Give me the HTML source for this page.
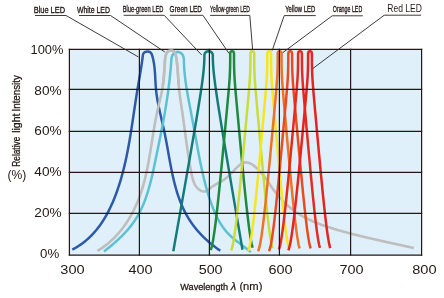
<!DOCTYPE html>
<html><head><meta charset="utf-8"><style>
html,body{margin:0;padding:0;background:#fff;width:444px;height:298px;overflow:hidden;}
svg{display:block;will-change:transform;font-family:"Liberation Sans",sans-serif;}
</style></head><body>
<svg width="444" height="298" viewBox="0 0 444 298">
<defs><clipPath id="topclip"><rect x="150" y="40" width="40" height="45"/></clipPath><clipPath id="archclip"><rect x="167.5" y="45" width="7" height="6"/></clipPath></defs>
<rect x="0" y="0" width="444" height="298" fill="#ffffff"/>
<rect x="69.40" y="49.30" width="352.20" height="205.90" fill="#dff0fa"/>
<g fill="none" stroke-linejoin="round"><path d="M72.33 249.60 L73.09 249.20 L73.84 248.80 L74.58 248.39 L75.31 247.97 L76.04 247.55 L76.76 247.11 L77.47 246.68 L78.17 246.23 L78.87 245.78 L79.56 245.32 L80.24 244.86 L80.92 244.39 L81.59 243.91 L82.25 243.43 L82.91 242.94 L83.56 242.45 L84.20 241.95 L84.83 241.44 L85.46 240.93 L86.08 240.41 L86.69 239.89 L87.30 239.36 L87.90 238.82 L88.50 238.28 L89.09 237.74 L89.67 237.18 L90.24 236.63 L90.81 236.07 L91.38 235.50 L91.93 234.93 L92.49 234.35 L93.03 233.77 L93.57 233.19 L94.10 232.60 L94.63 232.00 L95.15 231.40 L95.67 230.79 L96.18 230.19 L96.68 229.57 L97.18 228.95 L97.67 228.33 L98.16 227.70 L98.64 227.07 L99.12 226.44 L99.59 225.80 L100.05 225.16 L100.51 224.51 L100.97 223.86 L101.42 223.20 L101.86 222.55 L102.30 221.88 L102.73 221.22 L103.16 220.55 L103.59 219.88 L104.01 219.20 L104.42 218.52 L104.83 217.84 L105.24 217.16 L105.64 216.47 L106.03 215.78 L106.43 215.08 L106.81 214.39 L107.19 213.69 L107.57 212.98 L107.95 212.28 L108.32 211.57 L108.68 210.86 L109.04 210.15 L109.40 209.43 L109.75 208.72 L110.10 208.00 L110.44 207.27 L110.78 206.55 L111.12 205.82 L111.45 205.10 L111.78 204.36 L112.11 203.63 L112.43 202.90 L112.75 202.16 L113.06 201.43 L113.37 200.69 L113.68 199.95 L113.98 199.21 L114.28 198.46 L114.58 197.72 L114.87 196.97 L115.16 196.23 L115.45 195.48 L115.74 194.73 L116.02 193.98 L116.29 193.23 L116.57 192.48 L116.84 191.72 L117.11 190.97 L117.38 190.21 L117.64 189.46 L117.90 188.70 L118.16 187.94 L118.41 187.18 L118.66 186.42 L118.91 185.66 L119.16 184.90 L119.40 184.14 L119.64 183.37 L119.88 182.61 L120.11 181.84 L120.34 181.08 L120.57 180.31 L120.80 179.54 L121.03 178.77 L121.25 178.00 L121.47 177.23 L121.69 176.46 L121.90 175.69 L122.11 174.92 L122.32 174.14 L122.53 173.37 L122.74 172.59 L122.94 171.82 L123.14 171.04 L123.34 170.26 L123.54 169.49 L123.73 168.71 L123.93 167.93 L124.12 167.15 L124.30 166.37 L124.49 165.59 L124.67 164.81 L124.86 164.02 L125.04 163.24 L125.22 162.46 L125.39 161.67 L125.57 160.89 L125.74 160.10 L125.91 159.32 L126.08 158.53 L126.25 157.74 L126.42 156.96 L126.58 156.17 L126.74 155.38 L126.90 154.59 L127.06 153.80 L127.22 153.01 L127.38 152.22 L127.53 151.43 L127.69 150.64 L127.84 149.85 L127.99 149.06 L128.14 148.27 L128.29 147.48 L128.43 146.69 L128.58 145.89 L128.72 145.10 L128.87 144.31 L129.01 143.51 L129.15 142.72 L129.29 141.92 L129.43 141.13 L129.56 140.34 L129.70 139.54 L129.83 138.75 L129.97 137.95 L130.10 137.15 L130.23 136.36 L130.37 135.56 L130.50 134.77 L130.63 133.97 L130.75 133.17 L130.88 132.38 L131.01 131.58 L131.14 130.78 L131.26 129.99 L131.39 129.19 L131.51 128.39 L131.64 127.60 L131.76 126.80 L131.88 126.00 L132.00 125.21 L132.13 124.41 L132.25 123.61 L132.37 122.82 L132.49 122.02 L132.61 121.22 L132.73 120.43 L132.85 119.63 L132.97 118.83 L133.09 118.04 L133.21 117.24 L133.33 116.44 L133.44 115.65 L133.56 114.85 L133.68 114.06 L133.80 113.26 L133.92 112.46 L134.03 111.67 L134.15 110.87 L134.27 110.08 L134.39 109.28 L134.51 108.49 L134.63 107.70 L134.75 106.90 L134.86 106.11 L134.98 105.32 L135.10 104.52 L135.22 103.73 L135.34 102.94 L135.46 102.15 L135.58 101.35 L135.70 100.56 L135.83 99.77 L135.95 98.98 L136.07 98.19 L136.19 97.40 L136.32 96.61 L136.44 95.82 L136.57 95.03 L136.69 94.25 L136.82 93.46 L136.94 92.67 L137.07 91.89 L137.20 91.10 L137.33 90.31 L137.46 89.53 L137.59 88.74 L137.72 87.96 L137.85 87.18 L137.99 86.39 L138.12 85.61 L138.25 84.83 L138.39 84.05 L138.52 83.26 L138.66 82.48 L138.79 81.70 L138.93 80.92 L139.06 80.13 L139.20 79.35 L139.33 78.57 L139.47 77.79 L139.60 77.00 L139.74 76.22 L139.87 75.43 L140.00 74.65 L140.14 73.86 L140.27 73.08 L140.40 72.29 L140.53 71.50 L140.66 70.71 L140.78 69.92 L140.91 69.13 L141.04 68.34 L141.16 67.55 L141.28 66.75 L141.41 65.96 L141.53 65.16 L141.64 64.36 L141.76 63.57 L141.87 62.76 L141.99 61.96 L142.10 61.16 L142.21 60.35 L142.31 59.54 L142.42 58.73 L142.52 57.92 L142.62 57.11 L142.72 56.29 L142.83 55.48 L142.97 54.70 L143.20 53.96 L143.55 53.29 L144.05 52.72 L144.71 52.25 L145.48 51.89 L146.34 51.65 L147.23 51.53 L148.11 51.53 L148.95 51.67 L149.70 51.93 L150.33 52.32 L150.86 52.82 L151.29 53.42 L151.65 54.10 L151.95 54.83 L152.21 55.60 L152.44 56.39 L152.65 57.19 L152.85 57.98 L153.04 58.78 L153.22 59.58 L153.39 60.38 L153.55 61.18 L153.70 61.98 L153.84 62.78 L153.97 63.58 L154.09 64.39 L154.20 65.19 L154.31 65.99 L154.41 66.80 L154.50 67.60 L154.58 68.41 L154.66 69.21 L154.74 70.02 L154.81 70.82 L154.87 71.63 L154.93 72.44 L154.99 73.24 L155.04 74.05 L155.09 74.85 L155.14 75.66 L155.19 76.46 L155.23 77.27 L155.27 78.07 L155.32 78.87 L155.36 79.68 L155.40 80.48 L155.44 81.28 L155.49 82.08 L155.53 82.89 L155.58 83.69 L155.63 84.49 L155.68 85.28 L155.73 86.08 L155.79 86.88 L155.85 87.68 L155.92 88.47 L155.99 89.26 L156.07 90.06 L156.15 90.85 L156.24 91.64 L156.33 92.43 L156.42 93.22 L156.53 94.00 L156.63 94.79 L156.74 95.58 L156.86 96.36 L156.98 97.15 L157.10 97.93 L157.23 98.71 L157.36 99.49 L157.49 100.27 L157.63 101.05 L157.77 101.83 L157.92 102.61 L158.07 103.39 L158.22 104.17 L158.37 104.95 L158.53 105.73 L158.69 106.50 L158.85 107.28 L159.01 108.06 L159.18 108.83 L159.35 109.61 L159.52 110.39 L159.69 111.16 L159.86 111.94 L160.04 112.71 L160.21 113.49 L160.39 114.27 L160.57 115.04 L160.75 115.82 L160.93 116.60 L161.11 117.37 L161.29 118.15 L161.47 118.93 L161.65 119.70 L161.83 120.48 L162.01 121.26 L162.19 122.04 L162.38 122.82 L162.56 123.60 L162.74 124.38 L162.92 125.16 L163.09 125.94 L163.27 126.72 L163.45 127.51 L163.62 128.29 L163.79 129.07 L163.97 129.86 L164.14 130.65 L164.30 131.43 L164.47 132.22 L164.63 133.01 L164.80 133.80 L164.96 134.59 L165.12 135.38 L165.28 136.18 L165.43 136.97 L165.59 137.76 L165.74 138.56 L165.89 139.35 L166.04 140.15 L166.19 140.94 L166.34 141.74 L166.49 142.54 L166.64 143.33 L166.79 144.13 L166.93 144.93 L167.08 145.73 L167.22 146.53 L167.37 147.33 L167.51 148.13 L167.65 148.93 L167.79 149.73 L167.94 150.53 L168.08 151.33 L168.22 152.13 L168.36 152.93 L168.51 153.73 L168.65 154.53 L168.79 155.33 L168.94 156.13 L169.08 156.93 L169.22 157.73 L169.37 158.53 L169.51 159.33 L169.66 160.13 L169.80 160.93 L169.95 161.73 L170.10 162.53 L170.25 163.33 L170.40 164.13 L170.55 164.92 L170.70 165.72 L170.85 166.52 L171.01 167.31 L171.16 168.11 L171.32 168.90 L171.48 169.70 L171.64 170.49 L171.80 171.28 L171.96 172.07 L172.13 172.86 L172.30 173.65 L172.47 174.44 L172.64 175.23 L172.81 176.02 L172.99 176.81 L173.16 177.59 L173.34 178.38 L173.53 179.16 L173.71 179.94 L173.90 180.72 L174.09 181.50 L174.28 182.28 L174.48 183.06 L174.68 183.84 L174.88 184.61 L175.08 185.38 L175.29 186.16 L175.50 186.93 L175.71 187.70 L175.93 188.47 L176.15 189.23 L176.37 190.00 L176.60 190.76 L176.83 191.52 L177.06 192.28 L177.30 193.04 L177.54 193.80 L177.78 194.55 L178.03 195.31 L178.28 196.06 L178.54 196.81 L178.80 197.56 L179.07 198.30 L179.34 199.05 L179.61 199.79 L179.89 200.53 L180.17 201.27 L180.46 202.00 L180.75 202.74 L181.04 203.47 L181.35 204.20 L181.65 204.93 L181.96 205.65 L182.28 206.37 L182.60 207.09 L182.92 207.81 L183.26 208.53 L183.59 209.24 L183.93 209.95 L184.28 210.66 L184.63 211.37 L184.99 212.07 L185.35 212.77 L185.72 213.47 L186.10 214.17 L186.48 214.86 L186.87 215.55 L187.26 216.24 L187.66 216.92 L188.06 217.60 L188.47 218.28 L188.89 218.96 L189.31 219.63 L189.74 220.30 L190.18 220.97 L190.62 221.63 L191.07 222.29 L191.53 222.95 L191.99 223.61 L192.46 224.26 L192.94 224.91 L193.42 225.55 L193.91 226.20 L194.40 226.83 L194.90 227.47 L195.40 228.10 L195.91 228.73 L196.43 229.35 L196.95 229.97 L197.48 230.59 L198.01 231.20 L198.55 231.81 L199.09 232.42 L199.63 233.02 L200.18 233.61 L200.74 234.21 L201.30 234.79 L201.86 235.38 L202.43 235.96 L203.01 236.54 L203.58 237.11 L204.16 237.67 L204.75 238.24 L205.34 238.79 L205.93 239.35 L206.52 239.90 L207.12 240.44 L207.72 240.98 L208.33 241.51 L208.93 242.04 L209.54 242.57 L210.16 243.09 L210.77 243.60 L211.39 244.11 L212.01 244.61 L212.64 245.11 L213.26 245.61 L213.89 246.09 L214.52 246.58 L215.15 247.05 L215.78 247.53 L216.42 247.99 L217.06 248.45 L217.69 248.91 L218.33 249.36 L218.97 249.80 L219.62 250.24 L220.26 250.67" stroke="#2c5aa8" stroke-width="2.50" stroke-linecap="butt"/><path d="M97.32 250.96 L98.03 250.53 L98.73 250.10 L99.43 249.66 L100.13 249.21 L100.82 248.76 L101.50 248.30 L102.18 247.84 L102.85 247.37 L103.52 246.89 L104.18 246.41 L104.83 245.93 L105.48 245.43 L106.12 244.94 L106.76 244.43 L107.39 243.93 L108.02 243.41 L108.64 242.90 L109.26 242.37 L109.87 241.85 L110.47 241.31 L111.07 240.77 L111.67 240.23 L112.26 239.68 L112.84 239.13 L113.42 238.57 L113.99 238.01 L114.56 237.44 L115.12 236.87 L115.68 236.30 L116.23 235.71 L116.77 235.13 L117.31 234.54 L117.85 233.95 L118.38 233.35 L118.90 232.75 L119.42 232.14 L119.94 231.53 L120.45 230.92 L120.95 230.30 L121.45 229.67 L121.95 229.05 L122.43 228.42 L122.92 227.78 L123.40 227.15 L123.87 226.51 L124.34 225.86 L124.80 225.21 L125.26 224.56 L125.72 223.90 L126.17 223.25 L126.61 222.58 L127.05 221.92 L127.48 221.25 L127.91 220.58 L128.34 219.90 L128.76 219.22 L129.17 218.54 L129.58 217.86 L129.99 217.17 L130.39 216.48 L130.78 215.79 L131.17 215.09 L131.56 214.39 L131.94 213.69 L132.32 212.99 L132.69 212.28 L133.06 211.58 L133.42 210.86 L133.78 210.15 L134.13 209.44 L134.48 208.72 L134.82 208.00 L135.16 207.27 L135.50 206.55 L135.83 205.82 L136.16 205.10 L136.48 204.36 L136.80 203.63 L137.11 202.90 L137.42 202.16 L137.72 201.42 L138.02 200.68 L138.32 199.94 L138.61 199.20 L138.89 198.46 L139.18 197.71 L139.45 196.96 L139.73 196.22 L140.00 195.47 L140.26 194.71 L140.52 193.96 L140.78 193.21 L141.04 192.45 L141.29 191.70 L141.53 190.94 L141.77 190.18 L142.01 189.42 L142.25 188.66 L142.48 187.90 L142.71 187.13 L142.93 186.37 L143.15 185.60 L143.37 184.83 L143.58 184.07 L143.79 183.30 L144.00 182.53 L144.21 181.75 L144.41 180.98 L144.61 180.21 L144.80 179.43 L144.99 178.66 L145.18 177.88 L145.37 177.11 L145.56 176.33 L145.74 175.55 L145.92 174.77 L146.10 173.99 L146.27 173.21 L146.44 172.43 L146.61 171.64 L146.78 170.86 L146.95 170.08 L147.11 169.29 L147.27 168.50 L147.43 167.72 L147.59 166.93 L147.74 166.14 L147.90 165.36 L148.05 164.57 L148.20 163.78 L148.35 162.99 L148.49 162.20 L148.64 161.41 L148.78 160.62 L148.92 159.82 L149.06 159.03 L149.20 158.24 L149.34 157.45 L149.48 156.65 L149.62 155.86 L149.75 155.07 L149.89 154.27 L150.02 153.48 L150.15 152.68 L150.28 151.89 L150.41 151.09 L150.54 150.30 L150.67 149.50 L150.80 148.70 L150.93 147.91 L151.06 147.11 L151.18 146.32 L151.31 145.52 L151.44 144.72 L151.56 143.93 L151.69 143.13 L151.82 142.33 L151.94 141.54 L152.07 140.74 L152.20 139.94 L152.32 139.15 L152.45 138.35 L152.57 137.55 L152.70 136.76 L152.83 135.96 L152.96 135.17 L153.09 134.37 L153.21 133.58 L153.34 132.78 L153.47 131.99 L153.61 131.19 L153.74 130.40 L153.87 129.60 L154.00 128.81 L154.14 128.02 L154.27 127.22 L154.41 126.43 L154.55 125.64 L154.69 124.85 L154.83 124.06 L154.97 123.26 L155.11 122.47 L155.26 121.68 L155.40 120.90 L155.55 120.11 L155.70 119.32 L155.85 118.53 L156.00 117.75 L156.16 116.96 L156.31 116.17 L156.47 115.39 L156.63 114.60 L156.79 113.82 L156.96 113.04 L157.12 112.26 L157.29 111.48 L157.46 110.70 L157.64 109.92 L157.81 109.14 L157.99 108.36 L158.17 107.58 L158.35 106.81 L158.54 106.03 L158.72 105.25 L158.90 104.48 L159.09 103.70 L159.27 102.93 L159.46 102.16 L159.64 101.38 L159.83 100.61 L160.01 99.83 L160.19 99.06 L160.37 98.29 L160.55 97.51 L160.72 96.74 L160.89 95.96 L161.06 95.19 L161.23 94.41 L161.39 93.64 L161.55 92.86 L161.71 92.08 L161.86 91.30 L162.01 90.53 L162.15 89.75 L162.29 88.96 L162.42 88.18 L162.54 87.40 L162.67 86.62 L162.78 85.83 L162.90 85.05 L163.00 84.26 L163.11 83.47 L163.21 82.68 L163.30 81.89 L163.40 81.10 L163.49 80.31 L163.57 79.51 L163.65 78.72 L163.73 77.92 L163.81 77.13 L163.88 76.33 L163.95 75.53 L164.02 74.73 L164.09 73.93 L164.15 73.13 L164.21 72.32 L164.27 71.52 L164.33 70.71 L164.39 69.90 L164.44 69.09 L164.49 68.28 L164.55 67.47 L164.60 66.66 L164.65 65.84 L164.70 65.03 L164.75 64.21 L164.79 63.39 L164.84 62.57 L164.89 61.75 L164.94 60.93 L165.00 60.11 L165.06 59.29 L165.15 58.48 L165.25 57.68 L165.38 56.88 L165.54 56.10 L165.74 55.33 L165.98 54.58 L166.26 53.85 L166.60 53.14 L167.00 52.46 L167.49 51.85 L168.07 51.33 L168.74 50.91 L169.48 50.60 L170.26 50.42 L171.08 50.38 L171.91 50.48 L172.72 50.71 L173.47 51.07 L174.14 51.53 L174.67 52.09 L175.08 52.74 L175.38 53.46 L175.60 54.21 L175.77 55.00 L175.92 55.80 L176.06 56.59 L176.19 57.39 L176.32 58.18 L176.44 58.97 L176.56 59.77 L176.67 60.56 L176.78 61.35 L176.88 62.14 L176.97 62.93 L177.06 63.73 L177.15 64.52 L177.24 65.31 L177.31 66.10 L177.39 66.89 L177.46 67.68 L177.53 68.47 L177.60 69.26 L177.66 70.05 L177.72 70.84 L177.78 71.62 L177.84 72.41 L177.90 73.20 L177.95 73.99 L178.01 74.78 L178.06 75.57 L178.11 76.36 L178.17 77.15 L178.22 77.95 L178.27 78.74 L178.33 79.53 L178.38 80.32 L178.43 81.11 L178.49 81.91 L178.55 82.70 L178.61 83.49 L178.67 84.29 L178.73 85.08 L178.80 85.88 L178.87 86.67 L178.94 87.47 L179.01 88.27 L179.09 89.07 L179.18 89.87 L179.26 90.67 L179.35 91.47 L179.44 92.27 L179.54 93.07 L179.64 93.87 L179.74 94.68 L179.85 95.48 L179.95 96.28 L180.06 97.09 L180.17 97.89 L180.29 98.69 L180.40 99.50 L180.52 100.30 L180.63 101.11 L180.75 101.91 L180.87 102.71 L180.99 103.52 L181.11 104.32 L181.23 105.12 L181.35 105.93 L181.47 106.73 L181.59 107.53 L181.72 108.33 L181.83 109.13 L181.95 109.93 L182.07 110.73 L182.19 111.52 L182.31 112.32 L182.42 113.12 L182.53 113.91 L182.65 114.70 L182.76 115.50 L182.87 116.29 L182.98 117.08 L183.09 117.87 L183.20 118.66 L183.31 119.46 L183.42 120.24 L183.53 121.03 L183.64 121.82 L183.75 122.61 L183.85 123.40 L183.96 124.19 L184.07 124.97 L184.17 125.76 L184.28 126.54 L184.38 127.33 L184.49 128.12 L184.59 128.90 L184.70 129.69 L184.80 130.47 L184.91 131.26 L185.01 132.04 L185.12 132.83 L185.22 133.61 L185.33 134.39 L185.43 135.18 L185.54 135.96 L185.65 136.75 L185.75 137.53 L185.86 138.32 L185.97 139.10 L186.07 139.88 L186.18 140.67 L186.29 141.45 L186.40 142.24 L186.51 143.02 L186.62 143.81 L186.73 144.60 L186.84 145.38 L186.95 146.17 L187.06 146.96 L187.18 147.74 L187.29 148.53 L187.41 149.32 L187.52 150.11 L187.64 150.90 L187.76 151.69 L187.88 152.48 L188.00 153.27 L188.12 154.06 L188.24 154.85 L188.36 155.65 L188.49 156.44 L188.61 157.23 L188.74 158.03 L188.87 158.82 L189.00 159.62 L189.13 160.42 L189.26 161.22 L189.40 162.02 L189.53 162.82 L189.67 163.62 L189.81 164.42 L189.95 165.22 L190.09 166.03 L190.24 166.83 L190.38 167.64 L190.53 168.45 L190.68 169.26 L190.83 170.06 L190.98 170.88 L191.14 171.69 L191.30 172.50 L191.45 173.32 L191.62 174.13 L191.79 174.94 L191.96 175.75 L192.14 176.56 L192.34 177.36 L192.54 178.16 L192.75 178.94 L192.98 179.72 L193.23 180.49 L193.49 181.25 L193.77 182.00 L194.06 182.73 L194.38 183.45 L194.72 184.15 L195.09 184.83 L195.48 185.50 L195.89 186.15 L196.34 186.77 L196.81 187.37 L197.31 187.96 L197.85 188.51 L198.42 189.04 L199.03 189.54 L199.66 190.01 L200.32 190.44 L201.00 190.80 L201.70 191.11 L202.41 191.35 L203.13 191.50 L203.85 191.56 L204.56 191.52 L205.27 191.37 L205.97 191.13 L206.66 190.81 L207.36 190.42 L208.04 189.97 L208.73 189.48 L209.42 188.95 L210.11 188.40 L210.80 187.85 L211.49 187.30 L212.19 186.77 L212.89 186.26 L213.60 185.77 L214.32 185.31 L215.03 184.86 L215.75 184.43 L216.46 184.01 L217.18 183.61 L217.89 183.21 L218.60 182.82 L219.30 182.44 L220.00 182.06 L220.70 181.67 L221.38 181.29 L222.06 180.90 L222.72 180.50 L223.38 180.09 L224.02 179.68 L224.65 179.24 L225.26 178.79 L225.87 178.33 L226.46 177.85 L227.04 177.36 L227.62 176.86 L228.18 176.35 L228.75 175.83 L229.30 175.29 L229.86 174.75 L230.41 174.19 L230.96 173.63 L231.51 173.06 L232.06 172.48 L232.62 171.90 L233.18 171.31 L233.75 170.72 L234.32 170.12 L234.90 169.52 L235.48 168.91 L236.08 168.31 L236.69 167.70 L237.32 167.09 L237.95 166.49 L238.59 165.90 L239.25 165.34 L239.91 164.80 L240.58 164.30 L241.26 163.85 L241.95 163.45 L242.64 163.10 L243.34 162.82 L244.04 162.62 L244.74 162.48 L245.45 162.41 L246.16 162.41 L246.87 162.47 L247.58 162.58 L248.29 162.75 L248.99 162.97 L249.70 163.23 L250.40 163.55 L251.10 163.90 L251.79 164.29 L252.47 164.71 L253.15 165.16 L253.82 165.65 L254.49 166.15 L255.14 166.68 L255.78 167.23 L256.41 167.79 L257.03 168.36 L257.64 168.93 L258.23 169.52 L258.81 170.11 L259.38 170.71 L259.94 171.31 L260.49 171.91 L261.03 172.53 L261.55 173.14 L262.07 173.76 L262.58 174.39 L263.08 175.02 L263.58 175.65 L264.06 176.29 L264.55 176.93 L265.02 177.57 L265.49 178.21 L265.96 178.86 L266.42 179.51 L266.87 180.16 L267.33 180.81 L267.78 181.46 L268.23 182.12 L268.67 182.77 L269.12 183.43 L269.57 184.08 L270.01 184.74 L270.46 185.39 L270.91 186.05 L271.36 186.70 L271.81 187.35 L272.26 188.01 L272.72 188.65 L273.18 189.30 L273.65 189.95 L274.12 190.59 L274.59 191.23 L275.07 191.87 L275.56 192.50 L276.05 193.13 L276.55 193.76 L277.05 194.38 L277.56 195.01 L278.07 195.62 L278.59 196.24 L279.11 196.85 L279.64 197.45 L280.17 198.06 L280.71 198.65 L281.25 199.25 L281.80 199.84 L282.35 200.42 L282.90 201.00 L283.47 201.58 L284.03 202.15 L284.60 202.71 L285.18 203.27 L285.76 203.83 L286.34 204.38 L286.93 204.92 L287.53 205.46 L288.13 205.99 L288.73 206.52 L289.34 207.04 L289.95 207.55 L290.57 208.06 L291.19 208.56 L291.82 209.05 L292.45 209.54 L293.09 210.02 L293.73 210.50 L294.37 210.97 L295.02 211.43 L295.67 211.88 L296.33 212.33 L296.99 212.78 L297.65 213.21 L298.32 213.64 L298.99 214.07 L299.67 214.49 L300.35 214.90 L301.03 215.31 L301.72 215.71 L302.41 216.11 L303.10 216.50 L303.80 216.88 L304.50 217.26 L305.20 217.64 L305.91 218.01 L306.62 218.37 L307.33 218.73 L308.04 219.09 L308.76 219.44 L309.48 219.78 L310.20 220.12 L310.93 220.46 L311.66 220.79 L312.39 221.12 L313.12 221.44 L313.86 221.76 L314.60 222.07 L315.34 222.38 L316.08 222.69 L316.83 222.99 L317.57 223.29 L318.32 223.58 L319.07 223.87 L319.82 224.16 L320.58 224.44 L321.33 224.72 L322.09 225.00 L322.85 225.27 L323.61 225.54 L324.37 225.81 L325.14 226.07 L325.90 226.33 L326.67 226.59 L327.43 226.85 L328.20 227.10 L328.97 227.35 L329.74 227.59 L330.51 227.84 L331.28 228.08 L332.05 228.32 L332.83 228.56 L333.60 228.79 L334.37 229.03 L335.15 229.26 L335.92 229.49 L336.70 229.71 L337.47 229.94 L338.25 230.16 L339.02 230.39 L339.80 230.61 L340.58 230.83 L341.35 231.04 L342.13 231.26 L342.90 231.47 L343.68 231.69 L344.45 231.90 L345.23 232.11 L346.01 232.32 L346.78 232.53 L347.56 232.74 L348.33 232.94 L349.11 233.15 L349.88 233.35 L350.66 233.55 L351.43 233.75 L352.21 233.95 L352.99 234.15 L353.76 234.35 L354.54 234.55 L355.31 234.74 L356.09 234.94 L356.86 235.13 L357.64 235.33 L358.42 235.52 L359.19 235.71 L359.97 235.90 L360.74 236.09 L361.52 236.28 L362.30 236.46 L363.07 236.65 L363.85 236.84 L364.63 237.02 L365.40 237.20 L366.18 237.39 L366.96 237.57 L367.73 237.75 L368.51 237.93 L369.29 238.12 L370.06 238.30 L370.84 238.47 L371.62 238.65 L372.40 238.83 L373.17 239.01 L373.95 239.19 L374.73 239.36 L375.51 239.54 L376.28 239.72 L377.06 239.89 L377.84 240.07 L378.62 240.24 L379.40 240.42 L380.18 240.59 L380.96 240.76 L381.73 240.94 L382.51 241.11 L383.29 241.28 L384.07 241.46 L384.85 241.63 L385.63 241.80 L386.41 241.97 L387.19 242.15 L387.97 242.32 L388.75 242.49 L389.54 242.66 L390.32 242.83 L391.10 243.00 L391.88 243.17 L392.66 243.35 L393.44 243.52 L394.23 243.69 L395.01 243.86 L395.79 244.03 L396.57 244.20 L397.36 244.38 L398.14 244.55 L398.92 244.72 L399.71 244.89 L400.49 245.07 L401.28 245.24 L402.06 245.41 L402.85 245.59 L403.63 245.76 L404.42 245.93 L405.20 246.11 L405.99 246.28 L406.77 246.46 L407.56 246.63 L408.35 246.81 L409.13 246.99 L409.92 247.16 L410.71 247.34 L411.50 247.52 L412.29 247.70 L413.07 247.88 L413.86 248.06" stroke="#bfbebe" stroke-width="2.60" stroke-linecap="butt"/><path d="M103.93 251.46 L104.57 250.98 L105.20 250.49 L105.83 250.00 L106.46 249.50 L107.09 249.01 L107.72 248.51 L108.35 248.01 L108.98 247.50 L109.60 247.00 L110.23 246.49 L110.85 245.98 L111.47 245.46 L112.08 244.94 L112.70 244.42 L113.31 243.90 L113.92 243.37 L114.53 242.85 L115.14 242.31 L115.74 241.78 L116.35 241.24 L116.94 240.70 L117.54 240.16 L118.13 239.61 L118.72 239.06 L119.31 238.51 L119.89 237.95 L120.47 237.39 L121.05 236.83 L121.62 236.26 L122.19 235.70 L122.76 235.12 L123.32 234.55 L123.87 233.97 L124.43 233.39 L124.98 232.80 L125.52 232.21 L126.06 231.62 L126.60 231.02 L127.13 230.43 L127.65 229.82 L128.18 229.22 L128.69 228.61 L129.20 227.99 L129.71 227.38 L130.21 226.76 L130.71 226.13 L131.20 225.50 L131.68 224.87 L132.16 224.24 L132.63 223.60 L133.10 222.95 L133.56 222.31 L134.02 221.65 L134.47 221.00 L134.91 220.34 L135.35 219.68 L135.78 219.01 L136.20 218.34 L136.62 217.67 L137.03 216.99 L137.43 216.30 L137.83 215.62 L138.22 214.93 L138.61 214.23 L138.99 213.54 L139.36 212.84 L139.73 212.13 L140.09 211.43 L140.45 210.72 L140.80 210.00 L141.14 209.29 L141.48 208.57 L141.82 207.84 L142.15 207.12 L142.47 206.39 L142.79 205.66 L143.10 204.92 L143.41 204.18 L143.72 203.44 L144.02 202.70 L144.31 201.96 L144.60 201.21 L144.89 200.46 L145.17 199.70 L145.45 198.95 L145.72 198.19 L145.99 197.43 L146.26 196.67 L146.52 195.91 L146.77 195.14 L147.03 194.38 L147.27 193.61 L147.52 192.84 L147.76 192.06 L148.00 191.29 L148.24 190.51 L148.47 189.73 L148.70 188.96 L148.92 188.18 L149.14 187.39 L149.36 186.61 L149.58 185.83 L149.79 185.04 L150.00 184.25 L150.21 183.47 L150.41 182.68 L150.62 181.89 L150.82 181.10 L151.01 180.31 L151.21 179.51 L151.40 178.72 L151.59 177.93 L151.78 177.13 L151.97 176.34 L152.15 175.54 L152.34 174.75 L152.52 173.95 L152.70 173.16 L152.88 172.36 L153.05 171.56 L153.23 170.77 L153.40 169.97 L153.58 169.18 L153.75 168.38 L153.92 167.58 L154.09 166.79 L154.26 165.99 L154.42 165.20 L154.59 164.40 L154.76 163.61 L154.92 162.82 L155.09 162.02 L155.25 161.23 L155.42 160.44 L155.58 159.65 L155.75 158.86 L155.91 158.07 L156.08 157.28 L156.24 156.50 L156.40 155.71 L156.57 154.93 L156.73 154.14 L156.89 153.36 L157.05 152.57 L157.22 151.79 L157.38 151.01 L157.54 150.23 L157.70 149.45 L157.86 148.67 L158.02 147.89 L158.18 147.11 L158.34 146.33 L158.50 145.55 L158.66 144.77 L158.82 144.00 L158.98 143.22 L159.14 142.45 L159.30 141.67 L159.45 140.89 L159.61 140.12 L159.77 139.35 L159.92 138.57 L160.08 137.80 L160.23 137.02 L160.39 136.25 L160.54 135.48 L160.70 134.70 L160.85 133.93 L161.00 133.16 L161.15 132.39 L161.31 131.62 L161.46 130.84 L161.61 130.07 L161.76 129.30 L161.91 128.53 L162.05 127.76 L162.20 126.98 L162.35 126.21 L162.50 125.44 L162.64 124.67 L162.79 123.90 L162.93 123.13 L163.08 122.35 L163.22 121.58 L163.36 120.81 L163.50 120.04 L163.65 119.26 L163.79 118.49 L163.93 117.72 L164.07 116.94 L164.20 116.17 L164.34 115.40 L164.48 114.62 L164.61 113.85 L164.75 113.07 L164.88 112.30 L165.02 111.52 L165.15 110.75 L165.28 109.97 L165.41 109.19 L165.54 108.41 L165.67 107.64 L165.80 106.86 L165.93 106.08 L166.05 105.30 L166.18 104.52 L166.30 103.74 L166.43 102.95 L166.55 102.17 L166.67 101.39 L166.79 100.61 L166.91 99.82 L167.03 99.04 L167.15 98.25 L167.26 97.46 L167.38 96.68 L167.49 95.89 L167.61 95.10 L167.72 94.31 L167.83 93.52 L167.94 92.73 L168.05 91.93 L168.16 91.14 L168.27 90.34 L168.37 89.55 L168.48 88.75 L168.58 87.95 L168.68 87.16 L168.78 86.36 L168.88 85.55 L168.98 84.75 L169.08 83.95 L169.18 83.14 L169.27 82.34 L169.37 81.53 L169.46 80.72 L169.55 79.91 L169.64 79.10 L169.73 78.29 L169.82 77.48 L169.90 76.66 L169.99 75.85 L170.07 75.03 L170.15 74.21 L170.23 73.39 L170.31 72.57 L170.39 71.75 L170.47 70.92 L170.54 70.10 L170.62 69.27 L170.69 68.44 L170.76 67.61 L170.83 66.78 L170.90 65.95 L170.97 65.11 L171.03 64.27 L171.09 63.43 L171.16 62.59 L171.22 61.75 L171.28 60.91 L171.35 60.07 L171.43 59.24 L171.54 58.43 L171.68 57.64 L171.86 56.87 L172.10 56.14 L172.38 55.44 L172.74 54.79 L173.16 54.19 L173.67 53.64 L174.26 53.15 L174.93 52.73 L175.64 52.40 L176.39 52.16 L177.16 52.03 L177.94 52.01 L178.70 52.11 L179.43 52.33 L180.14 52.64 L180.81 53.05 L181.43 53.54 L181.98 54.10 L182.47 54.73 L182.88 55.41 L183.20 56.14 L183.45 56.90 L183.63 57.71 L183.76 58.53 L183.84 59.38 L183.90 60.25 L183.93 61.12 L183.95 61.99 L183.98 62.86 L184.01 63.72 L184.04 64.58 L184.08 65.43 L184.12 66.28 L184.17 67.12 L184.22 67.96 L184.27 68.79 L184.33 69.62 L184.39 70.44 L184.45 71.26 L184.52 72.08 L184.59 72.89 L184.67 73.69 L184.75 74.50 L184.83 75.30 L184.91 76.09 L185.00 76.89 L185.09 77.68 L185.18 78.46 L185.28 79.25 L185.38 80.03 L185.48 80.81 L185.58 81.59 L185.69 82.36 L185.80 83.14 L185.91 83.91 L186.02 84.68 L186.14 85.44 L186.25 86.21 L186.37 86.98 L186.50 87.74 L186.62 88.50 L186.74 89.27 L186.87 90.03 L187.00 90.79 L187.13 91.55 L187.26 92.31 L187.39 93.07 L187.53 93.83 L187.66 94.59 L187.80 95.35 L187.94 96.12 L188.08 96.88 L188.22 97.64 L188.36 98.41 L188.50 99.18 L188.64 99.94 L188.78 100.71 L188.93 101.48 L189.07 102.25 L189.22 103.03 L189.36 103.80 L189.51 104.58 L189.65 105.36 L189.80 106.13 L189.95 106.91 L190.09 107.69 L190.24 108.48 L190.39 109.26 L190.54 110.04 L190.69 110.83 L190.84 111.61 L190.98 112.40 L191.13 113.19 L191.28 113.98 L191.43 114.77 L191.58 115.56 L191.73 116.35 L191.88 117.14 L192.03 117.93 L192.18 118.72 L192.33 119.52 L192.48 120.31 L192.63 121.10 L192.78 121.90 L192.93 122.69 L193.08 123.49 L193.23 124.28 L193.38 125.08 L193.53 125.88 L193.68 126.67 L193.82 127.47 L193.97 128.27 L194.12 129.06 L194.27 129.86 L194.41 130.66 L194.56 131.45 L194.71 132.25 L194.85 133.05 L195.00 133.84 L195.14 134.64 L195.29 135.44 L195.43 136.23 L195.58 137.03 L195.72 137.82 L195.87 138.62 L196.01 139.42 L196.15 140.21 L196.30 141.01 L196.44 141.80 L196.59 142.60 L196.73 143.39 L196.88 144.19 L197.02 144.98 L197.17 145.77 L197.31 146.57 L197.46 147.36 L197.60 148.16 L197.75 148.95 L197.89 149.74 L198.04 150.53 L198.19 151.33 L198.34 152.12 L198.49 152.91 L198.64 153.70 L198.79 154.49 L198.94 155.28 L199.09 156.07 L199.24 156.86 L199.39 157.65 L199.55 158.44 L199.70 159.23 L199.86 160.02 L200.01 160.81 L200.17 161.60 L200.33 162.39 L200.49 163.17 L200.65 163.96 L200.81 164.75 L200.97 165.53 L201.14 166.32 L201.30 167.10 L201.47 167.89 L201.64 168.67 L201.81 169.45 L201.98 170.24 L202.15 171.02 L202.33 171.80 L202.50 172.58 L202.68 173.37 L202.86 174.15 L203.04 174.93 L203.22 175.71 L203.40 176.48 L203.59 177.26 L203.78 178.04 L203.96 178.82 L204.15 179.59 L204.35 180.37 L204.54 181.15 L204.74 181.92 L204.94 182.70 L205.14 183.47 L205.34 184.24 L205.55 185.01 L205.75 185.79 L205.96 186.56 L206.17 187.33 L206.39 188.10 L206.60 188.87 L206.82 189.63 L207.04 190.40 L207.27 191.17 L207.49 191.93 L207.72 192.70 L207.95 193.46 L208.19 194.23 L208.42 194.99 L208.66 195.75 L208.90 196.52 L209.15 197.28 L209.39 198.04 L209.64 198.80 L209.90 199.55 L210.15 200.31 L210.41 201.07 L210.67 201.82 L210.94 202.58 L211.20 203.33 L211.47 204.09 L211.75 204.84 L212.03 205.59 L212.31 206.34 L212.59 207.09 L212.88 207.83 L213.18 208.58 L213.47 209.32 L213.78 210.06 L214.08 210.80 L214.39 211.53 L214.71 212.27 L215.03 213.00 L215.36 213.73 L215.69 214.45 L216.03 215.18 L216.37 215.90 L216.72 216.61 L217.07 217.33 L217.43 218.04 L217.80 218.74 L218.17 219.45 L218.55 220.14 L218.94 220.84 L219.33 221.53 L219.73 222.22 L220.14 222.90 L220.55 223.58 L220.97 224.25 L221.40 224.92 L221.84 225.58 L222.28 226.24 L222.73 226.90 L223.20 227.55 L223.66 228.19 L224.14 228.83 L224.63 229.46 L225.12 230.09 L225.63 230.71 L226.14 231.33 L226.66 231.93 L227.19 232.54 L227.73 233.13 L228.28 233.73 L228.84 234.31 L229.41 234.89 L229.99 235.46 L230.58 236.02 L231.18 236.58 L231.79 237.13 L232.40 237.67 L233.03 238.21 L233.66 238.75 L234.29 239.27 L234.93 239.80 L235.58 240.32 L236.23 240.83 L236.88 241.34 L237.54 241.85 L238.20 242.35 L238.86 242.85 L239.52 243.35 L240.18 243.84 L240.84 244.33 L241.50 244.82 L242.15 245.31 L242.81 245.80 L243.46 246.29 L244.10 246.77 L244.75 247.25 L245.38 247.74 L246.01 248.22 L246.64 248.70 L247.26 249.19 L247.87 249.67 L248.47 250.16 L249.06 250.65 L249.64 251.13 L250.21 251.63 L250.77 252.12" stroke="#5cc1d3" stroke-width="2.50" stroke-linecap="butt"/><g clip-path="url(#topclip)"><path d="M97.32 250.96 L98.03 250.53 L98.73 250.10 L99.43 249.66 L100.13 249.21 L100.82 248.76 L101.50 248.30 L102.18 247.84 L102.85 247.37 L103.52 246.89 L104.18 246.41 L104.83 245.93 L105.48 245.43 L106.12 244.94 L106.76 244.43 L107.39 243.93 L108.02 243.41 L108.64 242.90 L109.26 242.37 L109.87 241.85 L110.47 241.31 L111.07 240.77 L111.67 240.23 L112.26 239.68 L112.84 239.13 L113.42 238.57 L113.99 238.01 L114.56 237.44 L115.12 236.87 L115.68 236.30 L116.23 235.71 L116.77 235.13 L117.31 234.54 L117.85 233.95 L118.38 233.35 L118.90 232.75 L119.42 232.14 L119.94 231.53 L120.45 230.92 L120.95 230.30 L121.45 229.67 L121.95 229.05 L122.43 228.42 L122.92 227.78 L123.40 227.15 L123.87 226.51 L124.34 225.86 L124.80 225.21 L125.26 224.56 L125.72 223.90 L126.17 223.25 L126.61 222.58 L127.05 221.92 L127.48 221.25 L127.91 220.58 L128.34 219.90 L128.76 219.22 L129.17 218.54 L129.58 217.86 L129.99 217.17 L130.39 216.48 L130.78 215.79 L131.17 215.09 L131.56 214.39 L131.94 213.69 L132.32 212.99 L132.69 212.28 L133.06 211.58 L133.42 210.86 L133.78 210.15 L134.13 209.44 L134.48 208.72 L134.82 208.00 L135.16 207.27 L135.50 206.55 L135.83 205.82 L136.16 205.10 L136.48 204.36 L136.80 203.63 L137.11 202.90 L137.42 202.16 L137.72 201.42 L138.02 200.68 L138.32 199.94 L138.61 199.20 L138.89 198.46 L139.18 197.71 L139.45 196.96 L139.73 196.22 L140.00 195.47 L140.26 194.71 L140.52 193.96 L140.78 193.21 L141.04 192.45 L141.29 191.70 L141.53 190.94 L141.77 190.18 L142.01 189.42 L142.25 188.66 L142.48 187.90 L142.71 187.13 L142.93 186.37 L143.15 185.60 L143.37 184.83 L143.58 184.07 L143.79 183.30 L144.00 182.53 L144.21 181.75 L144.41 180.98 L144.61 180.21 L144.80 179.43 L144.99 178.66 L145.18 177.88 L145.37 177.11 L145.56 176.33 L145.74 175.55 L145.92 174.77 L146.10 173.99 L146.27 173.21 L146.44 172.43 L146.61 171.64 L146.78 170.86 L146.95 170.08 L147.11 169.29 L147.27 168.50 L147.43 167.72 L147.59 166.93 L147.74 166.14 L147.90 165.36 L148.05 164.57 L148.20 163.78 L148.35 162.99 L148.49 162.20 L148.64 161.41 L148.78 160.62 L148.92 159.82 L149.06 159.03 L149.20 158.24 L149.34 157.45 L149.48 156.65 L149.62 155.86 L149.75 155.07 L149.89 154.27 L150.02 153.48 L150.15 152.68 L150.28 151.89 L150.41 151.09 L150.54 150.30 L150.67 149.50 L150.80 148.70 L150.93 147.91 L151.06 147.11 L151.18 146.32 L151.31 145.52 L151.44 144.72 L151.56 143.93 L151.69 143.13 L151.82 142.33 L151.94 141.54 L152.07 140.74 L152.20 139.94 L152.32 139.15 L152.45 138.35 L152.57 137.55 L152.70 136.76 L152.83 135.96 L152.96 135.17 L153.09 134.37 L153.21 133.58 L153.34 132.78 L153.47 131.99 L153.61 131.19 L153.74 130.40 L153.87 129.60 L154.00 128.81 L154.14 128.02 L154.27 127.22 L154.41 126.43 L154.55 125.64 L154.69 124.85 L154.83 124.06 L154.97 123.26 L155.11 122.47 L155.26 121.68 L155.40 120.90 L155.55 120.11 L155.70 119.32 L155.85 118.53 L156.00 117.75 L156.16 116.96 L156.31 116.17 L156.47 115.39 L156.63 114.60 L156.79 113.82 L156.96 113.04 L157.12 112.26 L157.29 111.48 L157.46 110.70 L157.64 109.92 L157.81 109.14 L157.99 108.36 L158.17 107.58 L158.35 106.81 L158.54 106.03 L158.72 105.25 L158.90 104.48 L159.09 103.70 L159.27 102.93 L159.46 102.16 L159.64 101.38 L159.83 100.61 L160.01 99.83 L160.19 99.06 L160.37 98.29 L160.55 97.51 L160.72 96.74 L160.89 95.96 L161.06 95.19 L161.23 94.41 L161.39 93.64 L161.55 92.86 L161.71 92.08 L161.86 91.30 L162.01 90.53 L162.15 89.75 L162.29 88.96 L162.42 88.18 L162.54 87.40 L162.67 86.62 L162.78 85.83 L162.90 85.05 L163.00 84.26 L163.11 83.47 L163.21 82.68 L163.30 81.89 L163.40 81.10 L163.49 80.31 L163.57 79.51 L163.65 78.72 L163.73 77.92 L163.81 77.13 L163.88 76.33 L163.95 75.53 L164.02 74.73 L164.09 73.93 L164.15 73.13 L164.21 72.32 L164.27 71.52 L164.33 70.71 L164.39 69.90 L164.44 69.09 L164.49 68.28 L164.55 67.47 L164.60 66.66 L164.65 65.84 L164.70 65.03 L164.75 64.21 L164.79 63.39 L164.84 62.57 L164.89 61.75 L164.94 60.93 L165.00 60.11 L165.06 59.29 L165.15 58.48 L165.25 57.68 L165.38 56.88 L165.54 56.10 L165.74 55.33 L165.98 54.58 L166.26 53.85 L166.60 53.14 L167.00 52.46 L167.49 51.85 L168.07 51.33 L168.74 50.91 L169.48 50.60 L170.26 50.42 L171.08 50.38 L171.91 50.48 L172.72 50.71 L173.47 51.07 L174.14 51.53 L174.67 52.09 L175.08 52.74 L175.38 53.46 L175.60 54.21 L175.77 55.00 L175.92 55.80 L176.06 56.59 L176.19 57.39 L176.32 58.18 L176.44 58.97 L176.56 59.77 L176.67 60.56 L176.78 61.35 L176.88 62.14 L176.97 62.93 L177.06 63.73 L177.15 64.52 L177.24 65.31 L177.31 66.10 L177.39 66.89 L177.46 67.68 L177.53 68.47 L177.60 69.26 L177.66 70.05 L177.72 70.84 L177.78 71.62 L177.84 72.41 L177.90 73.20 L177.95 73.99 L178.01 74.78 L178.06 75.57 L178.11 76.36 L178.17 77.15 L178.22 77.95 L178.27 78.74 L178.33 79.53 L178.38 80.32 L178.43 81.11 L178.49 81.91 L178.55 82.70 L178.61 83.49 L178.67 84.29 L178.73 85.08 L178.80 85.88 L178.87 86.67 L178.94 87.47 L179.01 88.27 L179.09 89.07 L179.18 89.87 L179.26 90.67 L179.35 91.47 L179.44 92.27 L179.54 93.07 L179.64 93.87 L179.74 94.68 L179.85 95.48 L179.95 96.28 L180.06 97.09 L180.17 97.89 L180.29 98.69 L180.40 99.50 L180.52 100.30 L180.63 101.11 L180.75 101.91 L180.87 102.71 L180.99 103.52 L181.11 104.32 L181.23 105.12 L181.35 105.93 L181.47 106.73 L181.59 107.53 L181.72 108.33 L181.83 109.13 L181.95 109.93 L182.07 110.73 L182.19 111.52 L182.31 112.32 L182.42 113.12 L182.53 113.91 L182.65 114.70 L182.76 115.50 L182.87 116.29 L182.98 117.08 L183.09 117.87 L183.20 118.66 L183.31 119.46 L183.42 120.24 L183.53 121.03 L183.64 121.82 L183.75 122.61 L183.85 123.40 L183.96 124.19 L184.07 124.97 L184.17 125.76 L184.28 126.54 L184.38 127.33 L184.49 128.12 L184.59 128.90 L184.70 129.69 L184.80 130.47 L184.91 131.26 L185.01 132.04 L185.12 132.83 L185.22 133.61 L185.33 134.39 L185.43 135.18 L185.54 135.96 L185.65 136.75 L185.75 137.53 L185.86 138.32 L185.97 139.10 L186.07 139.88 L186.18 140.67 L186.29 141.45 L186.40 142.24 L186.51 143.02 L186.62 143.81 L186.73 144.60 L186.84 145.38 L186.95 146.17 L187.06 146.96 L187.18 147.74 L187.29 148.53 L187.41 149.32 L187.52 150.11 L187.64 150.90 L187.76 151.69 L187.88 152.48 L188.00 153.27 L188.12 154.06 L188.24 154.85 L188.36 155.65 L188.49 156.44 L188.61 157.23 L188.74 158.03 L188.87 158.82 L189.00 159.62 L189.13 160.42 L189.26 161.22 L189.40 162.02 L189.53 162.82 L189.67 163.62 L189.81 164.42 L189.95 165.22 L190.09 166.03 L190.24 166.83 L190.38 167.64 L190.53 168.45 L190.68 169.26 L190.83 170.06 L190.98 170.88 L191.14 171.69 L191.30 172.50 L191.45 173.32 L191.62 174.13 L191.79 174.94 L191.96 175.75 L192.14 176.56 L192.34 177.36 L192.54 178.16 L192.75 178.94 L192.98 179.72 L193.23 180.49 L193.49 181.25 L193.77 182.00 L194.06 182.73 L194.38 183.45 L194.72 184.15 L195.09 184.83 L195.48 185.50 L195.89 186.15 L196.34 186.77 L196.81 187.37 L197.31 187.96 L197.85 188.51 L198.42 189.04 L199.03 189.54 L199.66 190.01 L200.32 190.44 L201.00 190.80 L201.70 191.11 L202.41 191.35 L203.13 191.50 L203.85 191.56 L204.56 191.52 L205.27 191.37 L205.97 191.13 L206.66 190.81 L207.36 190.42 L208.04 189.97 L208.73 189.48 L209.42 188.95 L210.11 188.40 L210.80 187.85 L211.49 187.30 L212.19 186.77 L212.89 186.26 L213.60 185.77 L214.32 185.31 L215.03 184.86 L215.75 184.43 L216.46 184.01 L217.18 183.61 L217.89 183.21 L218.60 182.82 L219.30 182.44 L220.00 182.06 L220.70 181.67 L221.38 181.29 L222.06 180.90 L222.72 180.50 L223.38 180.09 L224.02 179.68 L224.65 179.24 L225.26 178.79 L225.87 178.33 L226.46 177.85 L227.04 177.36 L227.62 176.86 L228.18 176.35 L228.75 175.83 L229.30 175.29 L229.86 174.75 L230.41 174.19 L230.96 173.63 L231.51 173.06 L232.06 172.48 L232.62 171.90 L233.18 171.31 L233.75 170.72 L234.32 170.12 L234.90 169.52 L235.48 168.91 L236.08 168.31 L236.69 167.70 L237.32 167.09 L237.95 166.49 L238.59 165.90 L239.25 165.34 L239.91 164.80 L240.58 164.30 L241.26 163.85 L241.95 163.45 L242.64 163.10 L243.34 162.82 L244.04 162.62 L244.74 162.48 L245.45 162.41 L246.16 162.41 L246.87 162.47 L247.58 162.58 L248.29 162.75 L248.99 162.97 L249.70 163.23 L250.40 163.55 L251.10 163.90 L251.79 164.29 L252.47 164.71 L253.15 165.16 L253.82 165.65 L254.49 166.15 L255.14 166.68 L255.78 167.23 L256.41 167.79 L257.03 168.36 L257.64 168.93 L258.23 169.52 L258.81 170.11 L259.38 170.71 L259.94 171.31 L260.49 171.91 L261.03 172.53 L261.55 173.14 L262.07 173.76 L262.58 174.39 L263.08 175.02 L263.58 175.65 L264.06 176.29 L264.55 176.93 L265.02 177.57 L265.49 178.21 L265.96 178.86 L266.42 179.51 L266.87 180.16 L267.33 180.81 L267.78 181.46 L268.23 182.12 L268.67 182.77 L269.12 183.43 L269.57 184.08 L270.01 184.74 L270.46 185.39 L270.91 186.05 L271.36 186.70 L271.81 187.35 L272.26 188.01 L272.72 188.65 L273.18 189.30 L273.65 189.95 L274.12 190.59 L274.59 191.23 L275.07 191.87 L275.56 192.50 L276.05 193.13 L276.55 193.76 L277.05 194.38 L277.56 195.01 L278.07 195.62 L278.59 196.24 L279.11 196.85 L279.64 197.45 L280.17 198.06 L280.71 198.65 L281.25 199.25 L281.80 199.84 L282.35 200.42 L282.90 201.00 L283.47 201.58 L284.03 202.15 L284.60 202.71 L285.18 203.27 L285.76 203.83 L286.34 204.38 L286.93 204.92 L287.53 205.46 L288.13 205.99 L288.73 206.52 L289.34 207.04 L289.95 207.55 L290.57 208.06 L291.19 208.56 L291.82 209.05 L292.45 209.54 L293.09 210.02 L293.73 210.50 L294.37 210.97 L295.02 211.43 L295.67 211.88 L296.33 212.33 L296.99 212.78 L297.65 213.21 L298.32 213.64 L298.99 214.07 L299.67 214.49 L300.35 214.90 L301.03 215.31 L301.72 215.71 L302.41 216.11 L303.10 216.50 L303.80 216.88 L304.50 217.26 L305.20 217.64 L305.91 218.01 L306.62 218.37 L307.33 218.73 L308.04 219.09 L308.76 219.44 L309.48 219.78 L310.20 220.12 L310.93 220.46 L311.66 220.79 L312.39 221.12 L313.12 221.44 L313.86 221.76 L314.60 222.07 L315.34 222.38 L316.08 222.69 L316.83 222.99 L317.57 223.29 L318.32 223.58 L319.07 223.87 L319.82 224.16 L320.58 224.44 L321.33 224.72 L322.09 225.00 L322.85 225.27 L323.61 225.54 L324.37 225.81 L325.14 226.07 L325.90 226.33 L326.67 226.59 L327.43 226.85 L328.20 227.10 L328.97 227.35 L329.74 227.59 L330.51 227.84 L331.28 228.08 L332.05 228.32 L332.83 228.56 L333.60 228.79 L334.37 229.03 L335.15 229.26 L335.92 229.49 L336.70 229.71 L337.47 229.94 L338.25 230.16 L339.02 230.39 L339.80 230.61 L340.58 230.83 L341.35 231.04 L342.13 231.26 L342.90 231.47 L343.68 231.69 L344.45 231.90 L345.23 232.11 L346.01 232.32 L346.78 232.53 L347.56 232.74 L348.33 232.94 L349.11 233.15 L349.88 233.35 L350.66 233.55 L351.43 233.75 L352.21 233.95 L352.99 234.15 L353.76 234.35 L354.54 234.55 L355.31 234.74 L356.09 234.94 L356.86 235.13 L357.64 235.33 L358.42 235.52 L359.19 235.71 L359.97 235.90 L360.74 236.09 L361.52 236.28 L362.30 236.46 L363.07 236.65 L363.85 236.84 L364.63 237.02 L365.40 237.20 L366.18 237.39 L366.96 237.57 L367.73 237.75 L368.51 237.93 L369.29 238.12 L370.06 238.30 L370.84 238.47 L371.62 238.65 L372.40 238.83 L373.17 239.01 L373.95 239.19 L374.73 239.36 L375.51 239.54 L376.28 239.72 L377.06 239.89 L377.84 240.07 L378.62 240.24 L379.40 240.42 L380.18 240.59 L380.96 240.76 L381.73 240.94 L382.51 241.11 L383.29 241.28 L384.07 241.46 L384.85 241.63 L385.63 241.80 L386.41 241.97 L387.19 242.15 L387.97 242.32 L388.75 242.49 L389.54 242.66 L390.32 242.83 L391.10 243.00 L391.88 243.17 L392.66 243.35 L393.44 243.52 L394.23 243.69 L395.01 243.86 L395.79 244.03 L396.57 244.20 L397.36 244.38 L398.14 244.55 L398.92 244.72 L399.71 244.89 L400.49 245.07 L401.28 245.24 L402.06 245.41 L402.85 245.59 L403.63 245.76 L404.42 245.93 L405.20 246.11 L405.99 246.28 L406.77 246.46 L407.56 246.63 L408.35 246.81 L409.13 246.99 L409.92 247.16 L410.71 247.34 L411.50 247.52 L412.29 247.70 L413.07 247.88 L413.86 248.06" stroke="#bfbebe" stroke-width="2.6"/></g><path d="M173.30 251.30 L173.64 249.40 L173.99 247.40 L174.35 245.40 L174.70 243.40 L175.06 241.40 L175.41 239.40 L175.77 237.40 L176.12 235.40 L176.48 233.40 L176.83 231.40 L177.19 229.40 L177.54 227.40 L177.89 225.40 L178.25 223.40 L178.60 221.40 L178.96 219.40 L179.31 217.40 L179.67 215.40 L180.02 213.40 L180.37 211.40 L180.73 209.40 L181.08 207.40 L181.43 205.40 L181.79 203.40 L182.14 201.40 L182.49 199.40 L182.85 197.40 L183.20 195.40 L183.55 193.40 L183.91 191.40 L184.26 189.40 L184.61 187.40 L184.96 185.40 L185.31 183.40 L185.67 181.40 L186.02 179.40 L186.37 177.40 L186.72 175.40 L187.07 173.40 L187.42 171.40 L187.77 169.40 L188.12 167.40 L188.47 165.40 L188.82 163.40 L189.17 161.40 L189.52 159.40 L189.87 157.40 L190.22 155.40 L190.57 153.40 L190.91 151.40 L191.26 149.40 L191.61 147.40 L191.95 145.40 L192.30 143.40 L192.65 141.40 L192.99 139.40 L193.33 137.40 L193.68 135.40 L194.02 133.40 L194.36 131.40 L194.70 129.40 L195.05 127.40 L195.39 125.40 L195.72 123.40 L196.06 121.40 L196.40 119.40 L196.73 117.40 L197.07 115.40 L197.40 113.40 L197.73 111.40 L198.06 109.40 L198.39 107.40 L198.71 105.40 L199.03 103.40 L199.35 101.40 L199.67 99.40 L199.99 97.40 L200.30 95.40 L200.60 93.40 L200.90 91.40 L201.20 89.40 L201.49 87.40 L201.78 85.40 L202.06 83.40 L202.33 81.40 L202.59 79.40 L202.84 77.40 L203.08 75.40 L203.30 73.40 L203.51 71.40 L203.71 69.40 L203.88 67.40 L204.03 65.40 L204.16 63.40 L204.26 61.40 L204.27 61.15 L204.28 60.90 L204.29 60.65 L204.30 60.40 L204.31 60.15 L204.32 59.90 L204.33 59.65 L204.34 59.40 L204.35 59.15 L204.35 58.90 L204.36 58.65 L204.36 58.40 L204.37 58.15 L204.38 57.90 L204.38 57.65 L204.38 57.40 L204.39 57.15 L204.39 56.90 L204.39 56.65 L204.40 56.40 L204.40 56.15 L204.40 55.90 L204.40 55.65 L204.40 55.40 L204.40 55.15 L204.42 54.90 L204.46 54.65 L204.51 54.40 L204.58 54.15 L204.66 53.90 L204.76 53.65 L204.88 53.40 L205.02 53.15 L205.19 52.90 L205.38 52.65 L205.61 52.40 L205.88 52.15 L206.20 51.90 L206.61 51.65 L207.17 51.40 L208.60 51.15 L210.03 51.40 L210.59 51.65 L211.00 51.90 L211.32 52.15 L211.59 52.40 L211.82 52.65 L212.01 52.90 L212.18 53.15 L212.32 53.40 L212.44 53.65 L212.54 53.90 L212.62 54.15 L212.69 54.40 L212.74 54.65 L212.78 54.90 L212.80 55.15 L212.80 55.40 L212.80 55.65 L212.80 55.90 L212.80 56.15 L212.80 56.40 L212.81 56.65 L212.81 56.90 L212.81 57.15 L212.81 57.40 L212.82 57.65 L212.82 57.90 L212.83 58.15 L212.83 58.40 L212.84 58.65 L212.84 58.90 L212.85 59.15 L212.86 59.40 L212.87 59.65 L212.87 59.90 L212.88 60.15 L212.89 60.40 L212.90 60.65 L212.91 60.90 L212.92 61.15 L212.93 61.40 L213.02 63.40 L213.15 65.40 L213.29 67.40 L213.45 69.40 L213.63 71.40 L213.83 73.40 L214.05 75.40 L214.27 77.40 L214.51 79.40 L214.76 81.40 L215.02 83.40 L215.28 85.40 L215.56 87.40 L215.83 89.40 L216.12 91.40 L216.41 93.40 L216.70 95.40 L217.00 97.40 L217.30 99.40 L217.61 101.40 L217.91 103.40 L218.22 105.40 L218.54 107.40 L218.85 109.40 L219.17 111.40 L219.49 113.40 L219.81 115.40 L220.13 117.40 L220.45 119.40 L220.77 121.40 L221.10 123.40 L221.43 125.40 L221.75 127.40 L222.08 129.40 L222.41 131.40 L222.74 133.40 L223.07 135.40 L223.40 137.40 L223.73 139.40 L224.07 141.40 L224.40 143.40 L224.73 145.40 L225.07 147.40 L225.40 149.40 L225.74 151.40 L226.07 153.40 L226.41 155.40 L226.75 157.40 L227.08 159.40 L227.42 161.40 L227.76 163.40 L228.10 165.40 L228.43 167.40 L228.77 169.40 L229.11 171.40 L229.45 173.40 L229.79 175.40 L230.13 177.40 L230.47 179.40 L230.81 181.40 L231.15 183.40 L231.49 185.40 L231.83 187.40 L232.17 189.40 L232.51 191.40 L232.85 193.40 L233.19 195.40 L233.53 197.40 L233.87 199.40 L234.21 201.40 L234.55 203.40 L234.90 205.40 L235.24 207.40 L235.58 209.40 L235.92 211.40 L236.26 213.40 L236.60 215.40 L236.95 217.40 L237.29 219.40 L237.63 221.40 L237.97 223.40 L238.32 225.40 L238.66 227.40 L239.00 229.40 L239.34 231.40 L239.69 233.40 L240.03 235.40 L240.37 237.40 L240.72 239.40 L241.06 241.40 L241.40 243.40 L241.74 245.40 L242.09 247.40 L242.43 249.40 L242.50 249.80" stroke="#137c7a" stroke-width="2.50" stroke-linecap="butt"/><path d="M210.70 250.10 L211.26 248.40 L211.79 246.40 L212.25 244.40 L212.66 242.40 L213.03 240.40 L213.37 238.40 L213.70 236.40 L214.00 234.40 L214.30 232.40 L214.58 230.40 L214.85 228.40 L215.11 226.40 L215.37 224.40 L215.62 222.40 L215.87 220.40 L216.11 218.40 L216.35 216.40 L216.58 214.40 L216.81 212.40 L217.04 210.40 L217.26 208.40 L217.48 206.40 L217.70 204.40 L217.91 202.40 L218.13 200.40 L218.34 198.40 L218.55 196.40 L218.76 194.40 L218.97 192.40 L219.18 190.40 L219.38 188.40 L219.58 186.40 L219.79 184.40 L219.99 182.40 L220.19 180.40 L220.39 178.40 L220.59 176.40 L220.78 174.40 L220.98 172.40 L221.18 170.40 L221.37 168.40 L221.57 166.40 L221.76 164.40 L221.96 162.40 L222.15 160.40 L222.34 158.40 L222.53 156.40 L222.73 154.40 L222.92 152.40 L223.11 150.40 L223.30 148.40 L223.49 146.40 L223.68 144.40 L223.87 142.40 L224.05 140.40 L224.24 138.40 L224.43 136.40 L224.62 134.40 L224.81 132.40 L225.00 130.40 L225.18 128.40 L225.37 126.40 L225.56 124.40 L225.74 122.40 L225.93 120.40 L226.12 118.40 L226.30 116.40 L226.49 114.40 L226.68 112.40 L226.86 110.40 L227.05 108.40 L227.23 106.40 L227.42 104.40 L227.60 102.40 L227.79 100.40 L227.97 98.40 L228.15 96.40 L228.33 94.40 L228.51 92.40 L228.69 90.40 L228.86 88.40 L229.03 86.40 L229.19 84.40 L229.34 82.40 L229.48 80.40 L229.62 78.40 L229.73 76.40 L229.84 74.40 L229.93 72.40 L230.00 70.40 L230.06 68.40 L230.07 68.15 L230.07 67.90 L230.08 67.65 L230.08 67.40 L230.09 67.15 L230.10 66.90 L230.10 66.65 L230.11 66.40 L230.11 66.15 L230.12 65.90 L230.12 65.65 L230.13 65.40 L230.13 65.15 L230.14 64.90 L230.14 64.65 L230.14 64.40 L230.15 64.15 L230.15 63.90 L230.16 63.65 L230.16 63.40 L230.16 63.15 L230.17 62.90 L230.17 62.65 L230.17 62.40 L230.18 62.15 L230.18 61.90 L230.18 61.65 L230.18 61.40 L230.19 61.15 L230.19 60.90 L230.19 60.65 L230.19 60.40 L230.20 60.15 L230.20 59.90 L230.20 59.65 L230.20 59.40 L230.20 59.15 L230.20 58.90 L230.20 58.65 L230.20 58.40 L230.20 58.15 L230.20 57.90 L230.20 57.65 L230.20 57.40 L230.20 57.15 L230.20 56.90 L230.20 56.65 L230.20 56.40 L230.20 56.15 L230.20 55.90 L230.21 55.65 L230.21 55.40 L230.21 55.15 L230.21 54.90 L230.21 54.65 L230.21 54.40 L230.21 54.15 L230.21 53.90 L230.21 53.65 L230.21 53.40 L230.21 53.15 L230.25 52.90 L230.28 52.65 L230.35 52.40 L230.46 52.15 L230.61 51.90 L230.84 51.65 L231.17 51.40 L232.10 51.15 L233.03 51.40 L233.36 51.65 L233.59 51.90 L233.74 52.15 L233.85 52.40 L233.92 52.65 L233.95 52.90 L233.99 53.15 L233.99 53.40 L233.99 53.65 L233.99 53.90 L233.99 54.15 L233.99 54.40 L233.99 54.65 L233.99 54.90 L233.99 55.15 L233.99 55.40 L234.00 55.65 L234.00 55.90 L234.00 56.15 L234.00 56.40 L234.00 56.65 L234.00 56.90 L234.00 57.15 L234.00 57.40 L234.00 57.65 L234.00 57.90 L234.00 58.15 L234.00 58.40 L234.00 58.65 L234.00 58.90 L234.00 59.15 L234.01 59.40 L234.01 59.65 L234.01 59.90 L234.01 60.15 L234.01 60.40 L234.01 60.65 L234.01 60.90 L234.02 61.15 L234.02 61.40 L234.02 61.65 L234.02 61.90 L234.03 62.15 L234.03 62.40 L234.03 62.65 L234.04 62.90 L234.04 63.15 L234.04 63.40 L234.05 63.65 L234.05 63.90 L234.05 64.15 L234.06 64.40 L234.06 64.65 L234.07 64.90 L234.07 65.15 L234.08 65.40 L234.08 65.65 L234.09 65.90 L234.09 66.15 L234.10 66.40 L234.10 66.65 L234.11 66.90 L234.11 67.15 L234.12 67.40 L234.12 67.65 L234.13 67.90 L234.14 68.15 L234.14 68.40 L234.20 70.40 L234.28 72.40 L234.37 74.40 L234.47 76.40 L234.58 78.40 L234.71 80.40 L234.85 82.40 L235.00 84.40 L235.16 86.40 L235.32 88.40 L235.49 90.40 L235.66 92.40 L235.84 94.40 L236.02 96.40 L236.20 98.40 L236.38 100.40 L236.56 102.40 L236.74 104.40 L236.92 106.40 L237.10 108.40 L237.28 110.40 L237.47 112.40 L237.65 114.40 L237.83 116.40 L238.02 118.40 L238.20 120.40 L238.38 122.40 L238.57 124.40 L238.75 126.40 L238.93 128.40 L239.12 130.40 L239.30 132.40 L239.49 134.40 L239.67 136.40 L239.86 138.40 L240.04 140.40 L240.23 142.40 L240.42 144.40 L240.60 146.40 L240.79 148.40 L240.98 150.40 L241.16 152.40 L241.35 154.40 L241.54 156.40 L241.73 158.40 L241.92 160.40 L242.11 162.40 L242.30 164.40 L242.49 166.40 L242.68 168.40 L242.88 170.40 L243.07 172.40 L243.26 174.40 L243.46 176.40 L243.65 178.40 L243.85 180.40 L244.05 182.40 L244.25 184.40 L244.45 186.40 L244.65 188.40 L244.85 190.40 L245.06 192.40 L245.26 194.40 L245.47 196.40 L245.68 198.40 L245.89 200.40 L246.10 202.40 L246.32 204.40 L246.53 206.40 L246.75 208.40 L246.97 210.40 L247.20 212.40 L247.43 214.40 L247.66 216.40 L247.90 218.40 L248.14 220.40 L248.38 222.40 L248.63 224.40 L248.89 226.40 L249.16 228.40 L249.43 230.40 L249.71 232.40 L250.01 234.40 L250.32 236.40 L250.64 238.40 L250.99 240.40 L251.37 242.40 L251.79 244.40 L252.25 246.40 L252.60 247.70" stroke="#1d8a3e" stroke-width="2.50" stroke-linecap="butt"/><path d="M231.20 250.50 L231.24 250.40 L231.89 248.40 L232.41 246.40 L232.85 244.40 L233.25 242.40 L233.61 240.40 L233.95 238.40 L234.26 236.40 L234.56 234.40 L234.85 232.40 L235.13 230.40 L235.39 228.40 L235.65 226.40 L235.90 224.40 L236.15 222.40 L236.39 220.40 L236.62 218.40 L236.85 216.40 L237.08 214.40 L237.31 212.40 L237.53 210.40 L237.75 208.40 L237.96 206.40 L238.18 204.40 L238.39 202.40 L238.60 200.40 L238.81 198.40 L239.02 196.40 L239.22 194.40 L239.42 192.40 L239.63 190.40 L239.83 188.40 L240.03 186.40 L240.23 184.40 L240.42 182.40 L240.62 180.40 L240.81 178.40 L241.01 176.40 L241.20 174.40 L241.40 172.40 L241.59 170.40 L241.78 168.40 L241.97 166.40 L242.16 164.40 L242.35 162.40 L242.54 160.40 L242.73 158.40 L242.92 156.40 L243.11 154.40 L243.29 152.40 L243.48 150.40 L243.67 148.40 L243.85 146.40 L244.04 144.40 L244.23 142.40 L244.41 140.40 L244.60 138.40 L244.78 136.40 L244.97 134.40 L245.15 132.40 L245.33 130.40 L245.52 128.40 L245.70 126.40 L245.89 124.40 L246.07 122.40 L246.25 120.40 L246.44 118.40 L246.62 116.40 L246.80 114.40 L246.98 112.40 L247.17 110.40 L247.35 108.40 L247.53 106.40 L247.71 104.40 L247.89 102.40 L248.07 100.40 L248.25 98.40 L248.43 96.40 L248.61 94.40 L248.78 92.40 L248.95 90.40 L249.12 88.40 L249.28 86.40 L249.44 84.40 L249.58 82.40 L249.72 80.40 L249.85 78.40 L249.96 76.40 L250.06 74.40 L250.14 72.40 L250.21 70.40 L250.27 68.40 L250.27 68.15 L250.28 67.90 L250.29 67.65 L250.29 67.40 L250.30 67.15 L250.30 66.90 L250.31 66.65 L250.31 66.40 L250.32 66.15 L250.32 65.90 L250.33 65.65 L250.33 65.40 L250.34 65.15 L250.34 64.90 L250.34 64.65 L250.35 64.40 L250.35 64.15 L250.36 63.90 L250.36 63.65 L250.36 63.40 L250.37 63.15 L250.37 62.90 L250.37 62.65 L250.37 62.40 L250.38 62.15 L250.38 61.90 L250.38 61.65 L250.39 61.40 L250.39 61.15 L250.39 60.90 L250.39 60.65 L250.40 60.40 L250.40 60.15 L250.40 59.90 L250.40 59.65 L250.40 59.40 L250.40 59.15 L250.40 58.90 L250.40 58.65 L250.40 58.40 L250.40 58.15 L250.40 57.90 L250.40 57.65 L250.40 57.40 L250.40 57.15 L250.40 56.90 L250.40 56.65 L250.40 56.40 L250.41 56.15 L250.41 55.90 L250.41 55.65 L250.41 55.40 L250.41 55.15 L250.41 54.90 L250.41 54.65 L250.41 54.40 L250.41 54.15 L250.41 53.90 L250.41 53.65 L250.41 53.40 L250.41 53.15 L250.45 52.90 L250.48 52.65 L250.55 52.40 L250.66 52.15 L250.81 51.90 L251.04 51.65 L251.37 51.40 L252.30 51.15 L253.23 51.40 L253.56 51.65 L253.79 51.90 L253.94 52.15 L254.05 52.40 L254.12 52.65 L254.15 52.90 L254.19 53.15 L254.19 53.40 L254.19 53.65 L254.19 53.90 L254.19 54.15 L254.19 54.40 L254.19 54.65 L254.19 54.90 L254.19 55.15 L254.19 55.40 L254.19 55.65 L254.20 55.90 L254.20 56.15 L254.20 56.40 L254.20 56.65 L254.20 56.90 L254.20 57.15 L254.20 57.40 L254.20 57.65 L254.20 57.90 L254.20 58.15 L254.20 58.40 L254.20 58.65 L254.20 58.90 L254.20 59.15 L254.20 59.40 L254.20 59.65 L254.21 59.90 L254.21 60.15 L254.21 60.40 L254.21 60.65 L254.21 60.90 L254.21 61.15 L254.22 61.40 L254.22 61.65 L254.22 61.90 L254.22 62.15 L254.23 62.40 L254.23 62.65 L254.23 62.90 L254.24 63.15 L254.24 63.40 L254.24 63.65 L254.25 63.90 L254.25 64.15 L254.26 64.40 L254.26 64.65 L254.26 64.90 L254.27 65.15 L254.27 65.40 L254.28 65.65 L254.28 65.90 L254.29 66.15 L254.29 66.40 L254.30 66.65 L254.30 66.90 L254.31 67.15 L254.31 67.40 L254.32 67.65 L254.32 67.90 L254.33 68.15 L254.34 68.40 L254.39 70.40 L254.46 72.40 L254.55 74.40 L254.64 76.40 L254.76 78.40 L254.88 80.40 L255.01 82.40 L255.16 84.40 L255.31 86.40 L255.47 88.40 L255.64 90.40 L255.80 92.40 L255.98 94.40 L256.15 96.40 L256.32 98.40 L256.50 100.40 L256.68 102.40 L256.86 104.40 L257.04 106.40 L257.22 108.40 L257.39 110.40 L257.57 112.40 L257.75 114.40 L257.93 116.40 L258.12 118.40 L258.30 120.40 L258.48 122.40 L258.66 124.40 L258.84 126.40 L259.02 128.40 L259.20 130.40 L259.38 132.40 L259.56 134.40 L259.75 136.40 L259.93 138.40 L260.11 140.40 L260.29 142.40 L260.48 144.40 L260.66 146.40 L260.84 148.40 L261.03 150.40 L261.21 152.40 L261.40 154.40 L261.58 156.40 L261.77 158.40 L261.96 160.40 L262.14 162.40 L262.33 164.40 L262.52 166.40 L262.71 168.40 L262.90 170.40 L263.09 172.40 L263.28 174.40 L263.47 176.40 L263.66 178.40 L263.86 180.40 L264.05 182.40 L264.25 184.40 L264.44 186.40 L264.64 188.40 L264.84 190.40 L265.04 192.40 L265.24 194.40 L265.45 196.40 L265.65 198.40 L265.86 200.40 L266.07 202.40 L266.28 204.40 L266.49 206.40 L266.71 208.40 L266.92 210.40 L267.15 212.40 L267.37 214.40 L267.60 216.40 L267.83 218.40 L268.06 220.40 L268.31 222.40 L268.55 224.40 L268.80 226.40 L269.06 228.40 L269.33 230.40 L269.61 232.40 L269.90 234.40 L270.20 236.40 L270.52 238.40 L270.86 240.40 L271.23 242.40 L271.64 244.40 L272.09 246.40 L272.60 248.30" stroke="#c9dc3a" stroke-width="2.50" stroke-linecap="butt"/><path d="M248.20 251.00 L248.43 250.40 L249.06 248.40 L249.57 246.40 L250.01 244.40 L250.39 242.40 L250.75 240.40 L251.08 238.40 L251.38 236.40 L251.68 234.40 L251.96 232.40 L252.23 230.40 L252.49 228.40 L252.74 226.40 L252.99 224.40 L253.23 222.40 L253.47 220.40 L253.70 218.40 L253.93 216.40 L254.15 214.40 L254.37 212.40 L254.59 210.40 L254.81 208.40 L255.02 206.40 L255.23 204.40 L255.44 202.40 L255.65 200.40 L255.85 198.40 L256.05 196.40 L256.26 194.40 L256.46 192.40 L256.66 190.40 L256.85 188.40 L257.05 186.40 L257.25 184.40 L257.44 182.40 L257.63 180.40 L257.83 178.40 L258.02 176.40 L258.21 174.40 L258.40 172.40 L258.59 170.40 L258.78 168.40 L258.97 166.40 L259.16 164.40 L259.34 162.40 L259.53 160.40 L259.72 158.40 L259.90 156.40 L260.09 154.40 L260.27 152.40 L260.46 150.40 L260.64 148.40 L260.83 146.40 L261.01 144.40 L261.19 142.40 L261.38 140.40 L261.56 138.40 L261.74 136.40 L261.92 134.40 L262.10 132.40 L262.29 130.40 L262.47 128.40 L262.65 126.40 L262.83 124.40 L263.01 122.40 L263.19 120.40 L263.37 118.40 L263.55 116.40 L263.73 114.40 L263.91 112.40 L264.09 110.40 L264.27 108.40 L264.45 106.40 L264.63 104.40 L264.81 102.40 L264.99 100.40 L265.16 98.40 L265.34 96.40 L265.51 94.40 L265.68 92.40 L265.85 90.40 L266.02 88.40 L266.17 86.40 L266.32 84.40 L266.47 82.40 L266.60 80.40 L266.72 78.40 L266.83 76.40 L266.92 74.40 L267.00 72.40 L267.07 70.40 L267.12 68.40 L267.13 68.15 L267.14 67.90 L267.14 67.65 L267.15 67.40 L267.15 67.15 L267.16 66.90 L267.16 66.65 L267.17 66.40 L267.17 66.15 L267.18 65.90 L267.18 65.65 L267.18 65.40 L267.19 65.15 L267.19 64.90 L267.20 64.65 L267.20 64.40 L267.20 64.15 L267.21 63.90 L267.21 63.65 L267.21 63.40 L267.22 63.15 L267.22 62.90 L267.22 62.65 L267.23 62.40 L267.23 62.15 L267.23 61.90 L267.23 61.65 L267.24 61.40 L267.24 61.15 L267.24 60.90 L267.24 60.65 L267.25 60.40 L267.25 60.15 L267.25 59.90 L267.25 59.65 L267.25 59.40 L267.25 59.15 L267.25 58.90 L267.25 58.65 L267.25 58.40 L267.25 58.15 L267.25 57.90 L267.25 57.65 L267.25 57.40 L267.25 57.15 L267.25 56.90 L267.25 56.65 L267.26 56.40 L267.26 56.15 L267.26 55.90 L267.26 55.65 L267.26 55.40 L267.26 55.15 L267.26 54.90 L267.26 54.65 L267.26 54.40 L267.26 54.15 L267.26 53.90 L267.26 53.65 L267.26 53.40 L267.26 53.15 L267.30 52.90 L267.33 52.65 L267.40 52.40 L267.51 52.15 L267.66 51.90 L267.89 51.65 L268.22 51.40 L269.15 51.15 L270.08 51.40 L270.41 51.65 L270.64 51.90 L270.79 52.15 L270.90 52.40 L270.97 52.65 L271.00 52.90 L271.04 53.15 L271.04 53.40 L271.04 53.65 L271.04 53.90 L271.04 54.15 L271.04 54.40 L271.04 54.65 L271.04 54.90 L271.04 55.15 L271.04 55.40 L271.04 55.65 L271.04 55.90 L271.05 56.15 L271.05 56.40 L271.05 56.65 L271.05 56.90 L271.05 57.15 L271.05 57.40 L271.05 57.65 L271.05 57.90 L271.05 58.15 L271.05 58.40 L271.05 58.65 L271.05 58.90 L271.05 59.15 L271.05 59.40 L271.05 59.65 L271.05 59.90 L271.05 60.15 L271.06 60.40 L271.06 60.65 L271.06 60.90 L271.06 61.15 L271.06 61.40 L271.07 61.65 L271.07 61.90 L271.07 62.15 L271.08 62.40 L271.08 62.65 L271.08 62.90 L271.08 63.15 L271.09 63.40 L271.09 63.65 L271.09 63.90 L271.10 64.15 L271.10 64.40 L271.11 64.65 L271.11 64.90 L271.11 65.15 L271.12 65.40 L271.12 65.65 L271.13 65.90 L271.13 66.15 L271.14 66.40 L271.14 66.65 L271.14 66.90 L271.15 67.15 L271.16 67.40 L271.16 67.65 L271.17 67.90 L271.17 68.15 L271.18 68.40 L271.23 70.40 L271.30 72.40 L271.37 74.40 L271.46 76.40 L271.57 78.40 L271.68 80.40 L271.81 82.40 L271.95 84.40 L272.09 86.40 L272.25 88.40 L272.40 90.40 L272.57 92.40 L272.73 94.40 L272.90 96.40 L273.07 98.40 L273.24 100.40 L273.41 102.40 L273.59 104.40 L273.76 106.40 L273.93 108.40 L274.11 110.40 L274.28 112.40 L274.46 114.40 L274.63 116.40 L274.81 118.40 L274.98 120.40 L275.16 122.40 L275.33 124.40 L275.51 126.40 L275.69 128.40 L275.86 130.40 L276.04 132.40 L276.22 134.40 L276.39 136.40 L276.57 138.40 L276.75 140.40 L276.93 142.40 L277.10 144.40 L277.28 146.40 L277.46 148.40 L277.64 150.40 L277.82 152.40 L278.00 154.40 L278.18 156.40 L278.36 158.40 L278.54 160.40 L278.73 162.40 L278.91 164.40 L279.09 166.40 L279.28 168.40 L279.46 170.40 L279.64 172.40 L279.83 174.40 L280.02 176.40 L280.20 178.40 L280.39 180.40 L280.58 182.40 L280.77 184.40 L280.96 186.40 L281.16 188.40 L281.35 190.40 L281.55 192.40 L281.74 194.40 L281.94 196.40 L282.14 198.40 L282.34 200.40 L282.54 202.40 L282.75 204.40 L282.96 206.40 L283.17 208.40 L283.38 210.40 L283.59 212.40 L283.81 214.40 L284.03 216.40 L284.26 218.40 L284.49 220.40 L284.72 222.40 L284.96 224.40 L285.21 226.40 L285.46 228.40 L285.72 230.40 L285.99 232.40 L286.27 234.40 L286.57 236.40 L286.88 238.40 L287.21 240.40 L287.57 242.40 L287.96 244.40 L288.41 246.40 L288.90 248.30" stroke="#f6e620" stroke-width="2.50" stroke-linecap="butt"/><path d="M258.10 251.20 L258.42 250.40 L259.06 248.40 L259.58 246.40 L260.02 244.40 L260.42 242.40 L260.78 240.40 L261.11 238.40 L261.43 236.40 L261.73 234.40 L262.01 232.40 L262.29 230.40 L262.56 228.40 L262.82 226.40 L263.07 224.40 L263.31 222.40 L263.56 220.40 L263.79 218.40 L264.03 216.40 L264.25 214.40 L264.48 212.40 L264.70 210.40 L264.92 208.40 L265.14 206.40 L265.36 204.40 L265.57 202.40 L265.78 200.40 L265.99 198.40 L266.20 196.40 L266.41 194.40 L266.61 192.40 L266.81 190.40 L267.02 188.40 L267.22 186.40 L267.42 184.40 L267.62 182.40 L267.82 180.40 L268.01 178.40 L268.21 176.40 L268.41 174.40 L268.60 172.40 L268.80 170.40 L268.99 168.40 L269.18 166.40 L269.37 164.40 L269.57 162.40 L269.76 160.40 L269.95 158.40 L270.14 156.40 L270.33 154.40 L270.52 152.40 L270.71 150.40 L270.89 148.40 L271.08 146.40 L271.27 144.40 L271.46 142.40 L271.65 140.40 L271.83 138.40 L272.02 136.40 L272.21 134.40 L272.39 132.40 L272.58 130.40 L272.76 128.40 L272.95 126.40 L273.13 124.40 L273.32 122.40 L273.50 120.40 L273.69 118.40 L273.87 116.40 L274.06 114.40 L274.24 112.40 L274.43 110.40 L274.61 108.40 L274.80 106.40 L274.98 104.40 L275.16 102.40 L275.35 100.40 L275.53 98.40 L275.71 96.40 L275.89 94.40 L276.06 92.40 L276.24 90.40 L276.41 88.40 L276.57 86.40 L276.73 84.40 L276.88 82.40 L277.01 80.40 L277.14 78.40 L277.26 76.40 L277.35 74.40 L277.44 72.40 L277.51 70.40 L277.57 68.40 L277.57 68.15 L277.58 67.90 L277.59 67.65 L277.59 67.40 L277.60 67.15 L277.60 66.90 L277.61 66.65 L277.61 66.40 L277.62 66.15 L277.62 65.90 L277.63 65.65 L277.63 65.40 L277.64 65.15 L277.64 64.90 L277.64 64.65 L277.65 64.40 L277.65 64.15 L277.66 63.90 L277.66 63.65 L277.66 63.40 L277.67 63.15 L277.67 62.90 L277.67 62.65 L277.68 62.40 L277.68 62.15 L277.68 61.90 L277.68 61.65 L277.69 61.40 L277.69 61.15 L277.69 60.90 L277.69 60.65 L277.70 60.40 L277.70 60.15 L277.70 59.90 L277.70 59.65 L277.70 59.40 L277.70 59.15 L277.70 58.90 L277.70 58.65 L277.70 58.40 L277.70 58.15 L277.70 57.90 L277.70 57.65 L277.70 57.40 L277.70 57.15 L277.70 56.90 L277.70 56.65 L277.70 56.40 L277.71 56.15 L277.71 55.90 L277.71 55.65 L277.71 55.40 L277.71 55.15 L277.71 54.90 L277.71 54.65 L277.71 54.40 L277.71 54.15 L277.71 53.90 L277.71 53.65 L277.71 53.40 L277.71 53.15 L277.75 52.90 L277.78 52.65 L277.85 52.40 L277.96 52.15 L278.11 51.90 L278.34 51.65 L278.67 51.40 L279.60 51.15 L280.53 51.40 L280.86 51.65 L281.09 51.90 L281.24 52.15 L281.35 52.40 L281.42 52.65 L281.45 52.90 L281.49 53.15 L281.49 53.40 L281.49 53.65 L281.49 53.90 L281.49 54.15 L281.49 54.40 L281.49 54.65 L281.49 54.90 L281.49 55.15 L281.49 55.40 L281.49 55.65 L281.49 55.90 L281.50 56.15 L281.50 56.40 L281.50 56.65 L281.50 56.90 L281.50 57.15 L281.50 57.40 L281.50 57.65 L281.50 57.90 L281.50 58.15 L281.50 58.40 L281.50 58.65 L281.50 58.90 L281.50 59.15 L281.50 59.40 L281.50 59.65 L281.50 59.90 L281.50 60.15 L281.51 60.40 L281.51 60.65 L281.51 60.90 L281.51 61.15 L281.52 61.40 L281.52 61.65 L281.52 61.90 L281.52 62.15 L281.53 62.40 L281.53 62.65 L281.53 62.90 L281.54 63.15 L281.54 63.40 L281.54 63.65 L281.55 63.90 L281.55 64.15 L281.55 64.40 L281.56 64.65 L281.56 64.90 L281.56 65.15 L281.57 65.40 L281.57 65.65 L281.58 65.90 L281.58 66.15 L281.59 66.40 L281.59 66.65 L281.60 66.90 L281.60 67.15 L281.61 67.40 L281.61 67.65 L281.62 67.90 L281.62 68.15 L281.63 68.40 L281.68 70.40 L281.75 72.40 L281.83 74.40 L281.92 76.40 L282.03 78.40 L282.15 80.40 L282.28 82.40 L282.42 84.40 L282.57 86.40 L282.72 88.40 L282.88 90.40 L283.05 92.40 L283.21 94.40 L283.38 96.40 L283.56 98.40 L283.73 100.40 L283.90 102.40 L284.08 104.40 L284.25 106.40 L284.43 108.40 L284.61 110.40 L284.78 112.40 L284.96 114.40 L285.14 116.40 L285.31 118.40 L285.49 120.40 L285.67 122.40 L285.85 124.40 L286.03 126.40 L286.20 128.40 L286.38 130.40 L286.56 132.40 L286.74 134.40 L286.92 136.40 L287.10 138.40 L287.28 140.40 L287.46 142.40 L287.64 144.40 L287.82 146.40 L288.00 148.40 L288.18 150.40 L288.36 152.40 L288.54 154.40 L288.72 156.40 L288.91 158.40 L289.09 160.40 L289.27 162.40 L289.46 164.40 L289.64 166.40 L289.83 168.40 L290.02 170.40 L290.20 172.40 L290.39 174.40 L290.58 176.40 L290.77 178.40 L290.96 180.40 L291.15 182.40 L291.34 184.40 L291.54 186.40 L291.73 188.40 L291.93 190.40 L292.12 192.40 L292.32 194.40 L292.52 196.40 L292.72 198.40 L292.93 200.40 L293.13 202.40 L293.34 204.40 L293.55 206.40 L293.76 208.40 L293.97 210.40 L294.19 212.40 L294.41 214.40 L294.63 216.40 L294.86 218.40 L295.09 220.40 L295.33 222.40 L295.57 224.40 L295.82 226.40 L296.07 228.40 L296.34 230.40 L296.61 232.40 L296.89 234.40 L297.19 236.40 L297.50 238.40 L297.84 240.40 L298.20 242.40 L298.60 244.40 L299.05 246.40 L299.57 248.40 L299.60 248.50" stroke="#ee7124" stroke-width="2.50" stroke-linecap="butt"/><path d="M269.00 251.20 L269.31 250.40 L269.95 248.40 L270.46 246.40 L270.90 244.40 L271.28 242.40 L271.64 240.40 L271.97 238.40 L272.28 236.40 L272.58 234.40 L272.86 232.40 L273.13 230.40 L273.39 228.40 L273.65 226.40 L273.90 224.40 L274.14 222.40 L274.38 220.40 L274.61 218.40 L274.84 216.40 L275.07 214.40 L275.29 212.40 L275.51 210.40 L275.73 208.40 L275.94 206.40 L276.16 204.40 L276.37 202.40 L276.57 200.40 L276.78 198.40 L276.99 196.40 L277.19 194.40 L277.39 192.40 L277.59 190.40 L277.79 188.40 L277.99 186.40 L278.19 184.40 L278.39 182.40 L278.58 180.40 L278.78 178.40 L278.97 176.40 L279.16 174.40 L279.35 172.40 L279.55 170.40 L279.74 168.40 L279.93 166.40 L280.12 164.40 L280.31 162.40 L280.49 160.40 L280.68 158.40 L280.87 156.40 L281.06 154.40 L281.24 152.40 L281.43 150.40 L281.62 148.40 L281.80 146.40 L281.99 144.40 L282.17 142.40 L282.36 140.40 L282.54 138.40 L282.72 136.40 L282.91 134.40 L283.09 132.40 L283.28 130.40 L283.46 128.40 L283.64 126.40 L283.82 124.40 L284.01 122.40 L284.19 120.40 L284.37 118.40 L284.55 116.40 L284.74 114.40 L284.92 112.40 L285.10 110.40 L285.28 108.40 L285.46 106.40 L285.64 104.40 L285.82 102.40 L286.00 100.40 L286.18 98.40 L286.36 96.40 L286.54 94.40 L286.71 92.40 L286.88 90.40 L287.04 88.40 L287.20 86.40 L287.36 84.40 L287.50 82.40 L287.64 80.40 L287.76 78.40 L287.87 76.40 L287.97 74.40 L288.05 72.40 L288.12 70.40 L288.17 68.40 L288.18 68.15 L288.18 67.90 L288.19 67.65 L288.20 67.40 L288.20 67.15 L288.21 66.90 L288.21 66.65 L288.22 66.40 L288.22 66.15 L288.23 65.90 L288.23 65.65 L288.23 65.40 L288.24 65.15 L288.24 64.90 L288.25 64.65 L288.25 64.40 L288.25 64.15 L288.26 63.90 L288.26 63.65 L288.26 63.40 L288.27 63.15 L288.27 62.90 L288.27 62.65 L288.28 62.40 L288.28 62.15 L288.28 61.90 L288.28 61.65 L288.29 61.40 L288.29 61.15 L288.29 60.90 L288.29 60.65 L288.30 60.40 L288.30 60.15 L288.30 59.90 L288.30 59.65 L288.30 59.40 L288.30 59.15 L288.30 58.90 L288.30 58.65 L288.30 58.40 L288.30 58.15 L288.30 57.90 L288.30 57.65 L288.30 57.40 L288.30 57.15 L288.30 56.90 L288.30 56.65 L288.31 56.40 L288.31 56.15 L288.31 55.90 L288.31 55.65 L288.31 55.40 L288.31 55.15 L288.31 54.90 L288.31 54.65 L288.31 54.40 L288.31 54.15 L288.31 53.90 L288.31 53.65 L288.31 53.40 L288.31 53.15 L288.35 52.90 L288.38 52.65 L288.45 52.40 L288.56 52.15 L288.71 51.90 L288.94 51.65 L289.27 51.40 L290.20 51.15 L291.13 51.40 L291.46 51.65 L291.69 51.90 L291.84 52.15 L291.95 52.40 L292.02 52.65 L292.05 52.90 L292.09 53.15 L292.09 53.40 L292.09 53.65 L292.09 53.90 L292.09 54.15 L292.09 54.40 L292.09 54.65 L292.09 54.90 L292.09 55.15 L292.09 55.40 L292.09 55.65 L292.10 55.90 L292.10 56.15 L292.10 56.40 L292.10 56.65 L292.10 56.90 L292.10 57.15 L292.10 57.40 L292.10 57.65 L292.10 57.90 L292.10 58.15 L292.10 58.40 L292.10 58.65 L292.10 58.90 L292.10 59.15 L292.10 59.40 L292.10 59.65 L292.11 59.90 L292.11 60.15 L292.11 60.40 L292.11 60.65 L292.11 60.90 L292.11 61.15 L292.12 61.40 L292.12 61.65 L292.12 61.90 L292.12 62.15 L292.13 62.40 L292.13 62.65 L292.13 62.90 L292.14 63.15 L292.14 63.40 L292.14 63.65 L292.15 63.90 L292.15 64.15 L292.16 64.40 L292.16 64.65 L292.16 64.90 L292.17 65.15 L292.17 65.40 L292.18 65.65 L292.18 65.90 L292.19 66.15 L292.19 66.40 L292.20 66.65 L292.20 66.90 L292.21 67.15 L292.21 67.40 L292.22 67.65 L292.22 67.90 L292.23 68.15 L292.24 68.40 L292.29 70.40 L292.36 72.40 L292.45 74.40 L292.55 76.40 L292.66 78.40 L292.78 80.40 L292.92 82.40 L293.06 84.40 L293.22 86.40 L293.38 88.40 L293.54 90.40 L293.71 92.40 L293.88 94.40 L294.06 96.40 L294.23 98.40 L294.41 100.40 L294.59 102.40 L294.77 104.40 L294.95 106.40 L295.13 108.40 L295.31 110.40 L295.49 112.40 L295.67 114.40 L295.85 116.40 L296.03 118.40 L296.21 120.40 L296.39 122.40 L296.57 124.40 L296.75 126.40 L296.94 128.40 L297.12 130.40 L297.30 132.40 L297.48 134.40 L297.66 136.40 L297.85 138.40 L298.03 140.40 L298.21 142.40 L298.40 144.40 L298.58 146.40 L298.76 148.40 L298.95 150.40 L299.13 152.40 L299.32 154.40 L299.51 156.40 L299.69 158.40 L299.88 160.40 L300.07 162.40 L300.26 164.40 L300.44 166.40 L300.63 168.40 L300.82 170.40 L301.01 172.40 L301.21 174.40 L301.40 176.40 L301.59 178.40 L301.79 180.40 L301.98 182.40 L302.18 184.40 L302.37 186.40 L302.57 188.40 L302.77 190.40 L302.97 192.40 L303.18 194.40 L303.38 196.40 L303.58 198.40 L303.79 200.40 L304.00 202.40 L304.21 204.40 L304.43 206.40 L304.64 208.40 L304.86 210.40 L305.08 212.40 L305.31 214.40 L305.53 216.40 L305.77 218.40 L306.00 220.40 L306.24 222.40 L306.49 224.40 L306.74 226.40 L307.00 228.40 L307.27 230.40 L307.55 232.40 L307.84 234.40 L308.14 236.40 L308.46 238.40 L308.80 240.40 L309.17 242.40 L309.58 244.40 L310.03 246.40 L310.57 248.40 L310.60 248.50" stroke="#ea4a1f" stroke-width="2.50" stroke-linecap="butt"/><path d="M278.90 249.50 L279.25 248.40 L279.79 246.40 L280.25 244.40 L280.65 242.40 L281.03 240.40 L281.37 238.40 L281.69 236.40 L282.00 234.40 L282.29 232.40 L282.58 230.40 L282.85 228.40 L283.11 226.40 L283.37 224.40 L283.62 222.40 L283.86 220.40 L284.10 218.40 L284.34 216.40 L284.57 214.40 L284.80 212.40 L285.03 210.40 L285.25 208.40 L285.47 206.40 L285.69 204.40 L285.90 202.40 L286.12 200.40 L286.33 198.40 L286.54 196.40 L286.74 194.40 L286.95 192.40 L287.16 190.40 L287.36 188.40 L287.56 186.40 L287.76 184.40 L287.96 182.40 L288.16 180.40 L288.36 178.40 L288.56 176.40 L288.76 174.40 L288.95 172.40 L289.15 170.40 L289.34 168.40 L289.53 166.40 L289.73 164.40 L289.92 162.40 L290.11 160.40 L290.30 158.40 L290.49 156.40 L290.68 154.40 L290.87 152.40 L291.06 150.40 L291.25 148.40 L291.44 146.40 L291.63 144.40 L291.82 142.40 L292.00 140.40 L292.19 138.40 L292.38 136.40 L292.56 134.40 L292.75 132.40 L292.94 130.40 L293.12 128.40 L293.31 126.40 L293.50 124.40 L293.68 122.40 L293.87 120.40 L294.05 118.40 L294.24 116.40 L294.42 114.40 L294.61 112.40 L294.79 110.40 L294.98 108.40 L295.16 106.40 L295.34 104.40 L295.53 102.40 L295.71 100.40 L295.89 98.40 L296.07 96.40 L296.25 94.40 L296.43 92.40 L296.60 90.40 L296.77 88.40 L296.94 86.40 L297.10 84.40 L297.25 82.40 L297.39 80.40 L297.52 78.40 L297.64 76.40 L297.74 74.40 L297.83 72.40 L297.90 70.40 L297.96 68.40 L297.97 68.15 L297.97 67.90 L297.98 67.65 L297.98 67.40 L297.99 67.15 L298.00 66.90 L298.00 66.65 L298.01 66.40 L298.01 66.15 L298.02 65.90 L298.02 65.65 L298.03 65.40 L298.03 65.15 L298.04 64.90 L298.04 64.65 L298.04 64.40 L298.05 64.15 L298.05 63.90 L298.06 63.65 L298.06 63.40 L298.06 63.15 L298.07 62.90 L298.07 62.65 L298.07 62.40 L298.08 62.15 L298.08 61.90 L298.08 61.65 L298.08 61.40 L298.09 61.15 L298.09 60.90 L298.09 60.65 L298.09 60.40 L298.09 60.15 L298.10 59.90 L298.10 59.65 L298.10 59.40 L298.10 59.15 L298.10 58.90 L298.10 58.65 L298.10 58.40 L298.10 58.15 L298.10 57.90 L298.10 57.65 L298.10 57.40 L298.10 57.15 L298.10 56.90 L298.10 56.65 L298.10 56.40 L298.10 56.15 L298.10 55.90 L298.11 55.65 L298.11 55.40 L298.11 55.15 L298.11 54.90 L298.11 54.65 L298.11 54.40 L298.11 54.15 L298.11 53.90 L298.11 53.65 L298.11 53.40 L298.11 53.15 L298.15 52.90 L298.18 52.65 L298.25 52.40 L298.36 52.15 L298.51 51.90 L298.74 51.65 L299.07 51.40 L300.00 51.15 L300.93 51.40 L301.26 51.65 L301.49 51.90 L301.64 52.15 L301.75 52.40 L301.82 52.65 L301.85 52.90 L301.89 53.15 L301.89 53.40 L301.89 53.65 L301.89 53.90 L301.89 54.15 L301.89 54.40 L301.89 54.65 L301.89 54.90 L301.89 55.15 L301.89 55.40 L301.89 55.65 L301.90 55.90 L301.90 56.15 L301.90 56.40 L301.90 56.65 L301.90 56.90 L301.90 57.15 L301.90 57.40 L301.90 57.65 L301.90 57.90 L301.90 58.15 L301.90 58.40 L301.90 58.65 L301.90 58.90 L301.90 59.15 L301.90 59.40 L301.90 59.65 L301.90 59.90 L301.91 60.15 L301.91 60.40 L301.91 60.65 L301.91 60.90 L301.91 61.15 L301.92 61.40 L301.92 61.65 L301.92 61.90 L301.92 62.15 L301.93 62.40 L301.93 62.65 L301.93 62.90 L301.94 63.15 L301.94 63.40 L301.94 63.65 L301.95 63.90 L301.95 64.15 L301.95 64.40 L301.96 64.65 L301.96 64.90 L301.97 65.15 L301.97 65.40 L301.97 65.65 L301.98 65.90 L301.98 66.15 L301.99 66.40 L301.99 66.65 L302.00 66.90 L302.00 67.15 L302.01 67.40 L302.02 67.65 L302.02 67.90 L302.03 68.15 L302.03 68.40 L302.09 70.40 L302.16 72.40 L302.24 74.40 L302.33 76.40 L302.44 78.40 L302.56 80.40 L302.69 82.40 L302.83 84.40 L302.98 86.40 L303.13 88.40 L303.29 90.40 L303.46 92.40 L303.63 94.40 L303.80 96.40 L303.97 98.40 L304.14 100.40 L304.32 102.40 L304.49 104.40 L304.67 106.40 L304.84 108.40 L305.02 110.40 L305.20 112.40 L305.37 114.40 L305.55 116.40 L305.73 118.40 L305.91 120.40 L306.08 122.40 L306.26 124.40 L306.44 126.40 L306.62 128.40 L306.80 130.40 L306.98 132.40 L307.15 134.40 L307.33 136.40 L307.51 138.40 L307.69 140.40 L307.87 142.40 L308.05 144.40 L308.23 146.40 L308.41 148.40 L308.60 150.40 L308.78 152.40 L308.96 154.40 L309.14 156.40 L309.33 158.40 L309.51 160.40 L309.69 162.40 L309.88 164.40 L310.06 166.40 L310.25 168.40 L310.44 170.40 L310.62 172.40 L310.81 174.40 L311.00 176.40 L311.19 178.40 L311.38 180.40 L311.57 182.40 L311.77 184.40 L311.96 186.40 L312.15 188.40 L312.35 190.40 L312.55 192.40 L312.75 194.40 L312.95 196.40 L313.15 198.40 L313.35 200.40 L313.56 202.40 L313.77 204.40 L313.98 206.40 L314.19 208.40 L314.40 210.40 L314.62 212.40 L314.84 214.40 L315.07 216.40 L315.30 218.40 L315.53 220.40 L315.77 222.40 L316.01 224.40 L316.26 226.40 L316.52 228.40 L316.78 230.40 L317.05 232.40 L317.34 234.40 L317.64 236.40 L317.96 238.40 L318.29 240.40 L318.66 242.40 L319.06 244.40 L319.51 246.40 L319.90 247.90" stroke="#e62b1e" stroke-width="2.50" stroke-linecap="butt"/><path d="M288.40 250.30 L289.03 248.40 L289.57 246.40 L290.03 244.40 L290.44 242.40 L290.81 240.40 L291.16 238.40 L291.48 236.40 L291.79 234.40 L292.08 232.40 L292.37 230.40 L292.64 228.40 L292.90 226.40 L293.16 224.40 L293.42 222.40 L293.66 220.40 L293.91 218.40 L294.14 216.40 L294.38 214.40 L294.61 212.40 L294.84 210.40 L295.06 208.40 L295.28 206.40 L295.50 204.40 L295.72 202.40 L295.94 200.40 L296.15 198.40 L296.36 196.40 L296.57 194.40 L296.78 192.40 L296.99 190.40 L297.20 188.40 L297.40 186.40 L297.61 184.40 L297.81 182.40 L298.01 180.40 L298.21 178.40 L298.41 176.40 L298.61 174.40 L298.81 172.40 L299.01 170.40 L299.20 168.40 L299.40 166.40 L299.59 164.40 L299.79 162.40 L299.98 160.40 L300.18 158.40 L300.37 156.40 L300.56 154.40 L300.76 152.40 L300.95 150.40 L301.14 148.40 L301.33 146.40 L301.52 144.40 L301.71 142.40 L301.90 140.40 L302.09 138.40 L302.28 136.40 L302.47 134.40 L302.66 132.40 L302.85 130.40 L303.04 128.40 L303.23 126.40 L303.42 124.40 L303.60 122.40 L303.79 120.40 L303.98 118.40 L304.17 116.40 L304.35 114.40 L304.54 112.40 L304.73 110.40 L304.92 108.40 L305.10 106.40 L305.29 104.40 L305.48 102.40 L305.66 100.40 L305.85 98.40 L306.03 96.40 L306.21 94.40 L306.39 92.40 L306.57 90.40 L306.74 88.40 L306.91 86.40 L307.08 84.40 L307.23 82.40 L307.37 80.40 L307.51 78.40 L307.63 76.40 L307.73 74.40 L307.82 72.40 L307.90 70.40 L307.96 68.40 L307.96 68.15 L307.97 67.90 L307.98 67.65 L307.98 67.40 L307.99 67.15 L308.00 66.90 L308.00 66.65 L308.01 66.40 L308.01 66.15 L308.02 65.90 L308.02 65.65 L308.03 65.40 L308.03 65.15 L308.04 64.90 L308.04 64.65 L308.04 64.40 L308.05 64.15 L308.05 63.90 L308.06 63.65 L308.06 63.40 L308.06 63.15 L308.07 62.90 L308.07 62.65 L308.07 62.40 L308.08 62.15 L308.08 61.90 L308.08 61.65 L308.08 61.40 L308.09 61.15 L308.09 60.90 L308.09 60.65 L308.09 60.40 L308.10 60.15 L308.10 59.90 L308.10 59.65 L308.10 59.40 L308.10 59.15 L308.10 58.90 L308.10 58.65 L308.10 58.40 L308.10 58.15 L308.10 57.90 L308.10 57.65 L308.10 57.40 L308.10 57.15 L308.10 56.90 L308.10 56.65 L308.10 56.40 L308.10 56.15 L308.10 55.90 L308.11 55.65 L308.11 55.40 L308.11 55.15 L308.11 54.90 L308.11 54.65 L308.11 54.40 L308.11 54.15 L308.11 53.90 L308.11 53.65 L308.11 53.40 L308.11 53.15 L308.15 52.90 L308.18 52.65 L308.25 52.40 L308.36 52.15 L308.51 51.90 L308.74 51.65 L309.07 51.40 L310.00 51.15 L310.93 51.40 L311.26 51.65 L311.49 51.90 L311.64 52.15 L311.75 52.40 L311.82 52.65 L311.85 52.90 L311.89 53.15 L311.89 53.40 L311.89 53.65 L311.89 53.90 L311.89 54.15 L311.89 54.40 L311.89 54.65 L311.89 54.90 L311.89 55.15 L311.89 55.40 L311.89 55.65 L311.90 55.90 L311.90 56.15 L311.90 56.40 L311.90 56.65 L311.90 56.90 L311.90 57.15 L311.90 57.40 L311.90 57.65 L311.90 57.90 L311.90 58.15 L311.90 58.40 L311.90 58.65 L311.90 58.90 L311.90 59.15 L311.90 59.40 L311.90 59.65 L311.91 59.90 L311.91 60.15 L311.91 60.40 L311.91 60.65 L311.91 60.90 L311.91 61.15 L311.92 61.40 L311.92 61.65 L311.92 61.90 L311.92 62.15 L311.93 62.40 L311.93 62.65 L311.93 62.90 L311.94 63.15 L311.94 63.40 L311.94 63.65 L311.95 63.90 L311.95 64.15 L311.96 64.40 L311.96 64.65 L311.96 64.90 L311.97 65.15 L311.97 65.40 L311.98 65.65 L311.98 65.90 L311.99 66.15 L311.99 66.40 L312.00 66.65 L312.00 66.90 L312.01 67.15 L312.01 67.40 L312.02 67.65 L312.02 67.90 L312.03 68.15 L312.04 68.40 L312.09 70.40 L312.16 72.40 L312.25 74.40 L312.34 76.40 L312.45 78.40 L312.58 80.40 L312.71 82.40 L312.85 84.40 L313.01 86.40 L313.17 88.40 L313.33 90.40 L313.50 92.40 L313.67 94.40 L313.84 96.40 L314.02 98.40 L314.19 100.40 L314.37 102.40 L314.55 104.40 L314.73 106.40 L314.90 108.40 L315.08 110.40 L315.26 112.40 L315.44 114.40 L315.62 116.40 L315.80 118.40 L315.98 120.40 L316.16 122.40 L316.34 124.40 L316.52 126.40 L316.70 128.40 L316.88 130.40 L317.06 132.40 L317.25 134.40 L317.43 136.40 L317.61 138.40 L317.79 140.40 L317.97 142.40 L318.16 144.40 L318.34 146.40 L318.52 148.40 L318.71 150.40 L318.89 152.40 L319.07 154.40 L319.26 156.40 L319.44 158.40 L319.63 160.40 L319.82 162.40 L320.00 164.40 L320.19 166.40 L320.38 168.40 L320.57 170.40 L320.76 172.40 L320.95 174.40 L321.14 176.40 L321.33 178.40 L321.53 180.40 L321.72 182.40 L321.92 184.40 L322.11 186.40 L322.31 188.40 L322.51 190.40 L322.71 192.40 L322.91 194.40 L323.11 196.40 L323.32 198.40 L323.52 200.40 L323.73 202.40 L323.94 204.40 L324.15 206.40 L324.37 208.40 L324.59 210.40 L324.81 212.40 L325.03 214.40 L325.26 216.40 L325.49 218.40 L325.73 220.40 L325.97 222.40 L326.21 224.40 L326.46 226.40 L326.72 228.40 L326.99 230.40 L327.27 232.40 L327.56 234.40 L327.86 236.40 L328.18 238.40 L328.52 240.40 L328.89 242.40 L329.29 244.40 L329.75 246.40 L330.20 248.10" stroke="#e8221c" stroke-width="2.50" stroke-linecap="butt"/></g>
<g stroke="#231815" stroke-width="1.2"><line x1="69.40" y1="48.70" x2="69.40" y2="255.80"/><line x1="139.40" y1="48.70" x2="139.40" y2="255.80"/><line x1="209.40" y1="48.70" x2="209.40" y2="255.80"/><line x1="279.40" y1="48.70" x2="279.40" y2="255.80"/><line x1="350.60" y1="48.70" x2="350.60" y2="255.80"/><line x1="421.60" y1="48.70" x2="421.60" y2="255.80"/><line x1="68.80" y1="49.30" x2="422.20" y2="49.30"/><line x1="68.80" y1="89.40" x2="422.20" y2="89.40"/><line x1="68.80" y1="131.40" x2="422.20" y2="131.40"/><line x1="68.80" y1="172.30" x2="422.20" y2="172.30"/><line x1="68.80" y1="213.40" x2="422.20" y2="213.40"/><line x1="68.80" y1="255.20" x2="422.20" y2="255.20"/></g>
<g clip-path="url(#archclip)" fill="none"><path d="M97.32 250.96 L98.03 250.53 L98.73 250.10 L99.43 249.66 L100.13 249.21 L100.82 248.76 L101.50 248.30 L102.18 247.84 L102.85 247.37 L103.52 246.89 L104.18 246.41 L104.83 245.93 L105.48 245.43 L106.12 244.94 L106.76 244.43 L107.39 243.93 L108.02 243.41 L108.64 242.90 L109.26 242.37 L109.87 241.85 L110.47 241.31 L111.07 240.77 L111.67 240.23 L112.26 239.68 L112.84 239.13 L113.42 238.57 L113.99 238.01 L114.56 237.44 L115.12 236.87 L115.68 236.30 L116.23 235.71 L116.77 235.13 L117.31 234.54 L117.85 233.95 L118.38 233.35 L118.90 232.75 L119.42 232.14 L119.94 231.53 L120.45 230.92 L120.95 230.30 L121.45 229.67 L121.95 229.05 L122.43 228.42 L122.92 227.78 L123.40 227.15 L123.87 226.51 L124.34 225.86 L124.80 225.21 L125.26 224.56 L125.72 223.90 L126.17 223.25 L126.61 222.58 L127.05 221.92 L127.48 221.25 L127.91 220.58 L128.34 219.90 L128.76 219.22 L129.17 218.54 L129.58 217.86 L129.99 217.17 L130.39 216.48 L130.78 215.79 L131.17 215.09 L131.56 214.39 L131.94 213.69 L132.32 212.99 L132.69 212.28 L133.06 211.58 L133.42 210.86 L133.78 210.15 L134.13 209.44 L134.48 208.72 L134.82 208.00 L135.16 207.27 L135.50 206.55 L135.83 205.82 L136.16 205.10 L136.48 204.36 L136.80 203.63 L137.11 202.90 L137.42 202.16 L137.72 201.42 L138.02 200.68 L138.32 199.94 L138.61 199.20 L138.89 198.46 L139.18 197.71 L139.45 196.96 L139.73 196.22 L140.00 195.47 L140.26 194.71 L140.52 193.96 L140.78 193.21 L141.04 192.45 L141.29 191.70 L141.53 190.94 L141.77 190.18 L142.01 189.42 L142.25 188.66 L142.48 187.90 L142.71 187.13 L142.93 186.37 L143.15 185.60 L143.37 184.83 L143.58 184.07 L143.79 183.30 L144.00 182.53 L144.21 181.75 L144.41 180.98 L144.61 180.21 L144.80 179.43 L144.99 178.66 L145.18 177.88 L145.37 177.11 L145.56 176.33 L145.74 175.55 L145.92 174.77 L146.10 173.99 L146.27 173.21 L146.44 172.43 L146.61 171.64 L146.78 170.86 L146.95 170.08 L147.11 169.29 L147.27 168.50 L147.43 167.72 L147.59 166.93 L147.74 166.14 L147.90 165.36 L148.05 164.57 L148.20 163.78 L148.35 162.99 L148.49 162.20 L148.64 161.41 L148.78 160.62 L148.92 159.82 L149.06 159.03 L149.20 158.24 L149.34 157.45 L149.48 156.65 L149.62 155.86 L149.75 155.07 L149.89 154.27 L150.02 153.48 L150.15 152.68 L150.28 151.89 L150.41 151.09 L150.54 150.30 L150.67 149.50 L150.80 148.70 L150.93 147.91 L151.06 147.11 L151.18 146.32 L151.31 145.52 L151.44 144.72 L151.56 143.93 L151.69 143.13 L151.82 142.33 L151.94 141.54 L152.07 140.74 L152.20 139.94 L152.32 139.15 L152.45 138.35 L152.57 137.55 L152.70 136.76 L152.83 135.96 L152.96 135.17 L153.09 134.37 L153.21 133.58 L153.34 132.78 L153.47 131.99 L153.61 131.19 L153.74 130.40 L153.87 129.60 L154.00 128.81 L154.14 128.02 L154.27 127.22 L154.41 126.43 L154.55 125.64 L154.69 124.85 L154.83 124.06 L154.97 123.26 L155.11 122.47 L155.26 121.68 L155.40 120.90 L155.55 120.11 L155.70 119.32 L155.85 118.53 L156.00 117.75 L156.16 116.96 L156.31 116.17 L156.47 115.39 L156.63 114.60 L156.79 113.82 L156.96 113.04 L157.12 112.26 L157.29 111.48 L157.46 110.70 L157.64 109.92 L157.81 109.14 L157.99 108.36 L158.17 107.58 L158.35 106.81 L158.54 106.03 L158.72 105.25 L158.90 104.48 L159.09 103.70 L159.27 102.93 L159.46 102.16 L159.64 101.38 L159.83 100.61 L160.01 99.83 L160.19 99.06 L160.37 98.29 L160.55 97.51 L160.72 96.74 L160.89 95.96 L161.06 95.19 L161.23 94.41 L161.39 93.64 L161.55 92.86 L161.71 92.08 L161.86 91.30 L162.01 90.53 L162.15 89.75 L162.29 88.96 L162.42 88.18 L162.54 87.40 L162.67 86.62 L162.78 85.83 L162.90 85.05 L163.00 84.26 L163.11 83.47 L163.21 82.68 L163.30 81.89 L163.40 81.10 L163.49 80.31 L163.57 79.51 L163.65 78.72 L163.73 77.92 L163.81 77.13 L163.88 76.33 L163.95 75.53 L164.02 74.73 L164.09 73.93 L164.15 73.13 L164.21 72.32 L164.27 71.52 L164.33 70.71 L164.39 69.90 L164.44 69.09 L164.49 68.28 L164.55 67.47 L164.60 66.66 L164.65 65.84 L164.70 65.03 L164.75 64.21 L164.79 63.39 L164.84 62.57 L164.89 61.75 L164.94 60.93 L165.00 60.11 L165.06 59.29 L165.15 58.48 L165.25 57.68 L165.38 56.88 L165.54 56.10 L165.74 55.33 L165.98 54.58 L166.26 53.85 L166.60 53.14 L167.00 52.46 L167.49 51.85 L168.07 51.33 L168.74 50.91 L169.48 50.60 L170.26 50.42 L171.08 50.38 L171.91 50.48 L172.72 50.71 L173.47 51.07 L174.14 51.53 L174.67 52.09 L175.08 52.74 L175.38 53.46 L175.60 54.21 L175.77 55.00 L175.92 55.80 L176.06 56.59 L176.19 57.39 L176.32 58.18 L176.44 58.97 L176.56 59.77 L176.67 60.56 L176.78 61.35 L176.88 62.14 L176.97 62.93 L177.06 63.73 L177.15 64.52 L177.24 65.31 L177.31 66.10 L177.39 66.89 L177.46 67.68 L177.53 68.47 L177.60 69.26 L177.66 70.05 L177.72 70.84 L177.78 71.62 L177.84 72.41 L177.90 73.20 L177.95 73.99 L178.01 74.78 L178.06 75.57 L178.11 76.36 L178.17 77.15 L178.22 77.95 L178.27 78.74 L178.33 79.53 L178.38 80.32 L178.43 81.11 L178.49 81.91 L178.55 82.70 L178.61 83.49 L178.67 84.29 L178.73 85.08 L178.80 85.88 L178.87 86.67 L178.94 87.47 L179.01 88.27 L179.09 89.07 L179.18 89.87 L179.26 90.67 L179.35 91.47 L179.44 92.27 L179.54 93.07 L179.64 93.87 L179.74 94.68 L179.85 95.48 L179.95 96.28 L180.06 97.09 L180.17 97.89 L180.29 98.69 L180.40 99.50 L180.52 100.30 L180.63 101.11 L180.75 101.91 L180.87 102.71 L180.99 103.52 L181.11 104.32 L181.23 105.12 L181.35 105.93 L181.47 106.73 L181.59 107.53 L181.72 108.33 L181.83 109.13 L181.95 109.93 L182.07 110.73 L182.19 111.52 L182.31 112.32 L182.42 113.12 L182.53 113.91 L182.65 114.70 L182.76 115.50 L182.87 116.29 L182.98 117.08 L183.09 117.87 L183.20 118.66 L183.31 119.46 L183.42 120.24 L183.53 121.03 L183.64 121.82 L183.75 122.61 L183.85 123.40 L183.96 124.19 L184.07 124.97 L184.17 125.76 L184.28 126.54 L184.38 127.33 L184.49 128.12 L184.59 128.90 L184.70 129.69 L184.80 130.47 L184.91 131.26 L185.01 132.04 L185.12 132.83 L185.22 133.61 L185.33 134.39 L185.43 135.18 L185.54 135.96 L185.65 136.75 L185.75 137.53 L185.86 138.32 L185.97 139.10 L186.07 139.88 L186.18 140.67 L186.29 141.45 L186.40 142.24 L186.51 143.02 L186.62 143.81 L186.73 144.60 L186.84 145.38 L186.95 146.17 L187.06 146.96 L187.18 147.74 L187.29 148.53 L187.41 149.32 L187.52 150.11 L187.64 150.90 L187.76 151.69 L187.88 152.48 L188.00 153.27 L188.12 154.06 L188.24 154.85 L188.36 155.65 L188.49 156.44 L188.61 157.23 L188.74 158.03 L188.87 158.82 L189.00 159.62 L189.13 160.42 L189.26 161.22 L189.40 162.02 L189.53 162.82 L189.67 163.62 L189.81 164.42 L189.95 165.22 L190.09 166.03 L190.24 166.83 L190.38 167.64 L190.53 168.45 L190.68 169.26 L190.83 170.06 L190.98 170.88 L191.14 171.69 L191.30 172.50 L191.45 173.32 L191.62 174.13 L191.79 174.94 L191.96 175.75 L192.14 176.56 L192.34 177.36 L192.54 178.16 L192.75 178.94 L192.98 179.72 L193.23 180.49 L193.49 181.25 L193.77 182.00 L194.06 182.73 L194.38 183.45 L194.72 184.15 L195.09 184.83 L195.48 185.50 L195.89 186.15 L196.34 186.77 L196.81 187.37 L197.31 187.96 L197.85 188.51 L198.42 189.04 L199.03 189.54 L199.66 190.01 L200.32 190.44 L201.00 190.80 L201.70 191.11 L202.41 191.35 L203.13 191.50 L203.85 191.56 L204.56 191.52 L205.27 191.37 L205.97 191.13 L206.66 190.81 L207.36 190.42 L208.04 189.97 L208.73 189.48 L209.42 188.95 L210.11 188.40 L210.80 187.85 L211.49 187.30 L212.19 186.77 L212.89 186.26 L213.60 185.77 L214.32 185.31 L215.03 184.86 L215.75 184.43 L216.46 184.01 L217.18 183.61 L217.89 183.21 L218.60 182.82 L219.30 182.44 L220.00 182.06 L220.70 181.67 L221.38 181.29 L222.06 180.90 L222.72 180.50 L223.38 180.09 L224.02 179.68 L224.65 179.24 L225.26 178.79 L225.87 178.33 L226.46 177.85 L227.04 177.36 L227.62 176.86 L228.18 176.35 L228.75 175.83 L229.30 175.29 L229.86 174.75 L230.41 174.19 L230.96 173.63 L231.51 173.06 L232.06 172.48 L232.62 171.90 L233.18 171.31 L233.75 170.72 L234.32 170.12 L234.90 169.52 L235.48 168.91 L236.08 168.31 L236.69 167.70 L237.32 167.09 L237.95 166.49 L238.59 165.90 L239.25 165.34 L239.91 164.80 L240.58 164.30 L241.26 163.85 L241.95 163.45 L242.64 163.10 L243.34 162.82 L244.04 162.62 L244.74 162.48 L245.45 162.41 L246.16 162.41 L246.87 162.47 L247.58 162.58 L248.29 162.75 L248.99 162.97 L249.70 163.23 L250.40 163.55 L251.10 163.90 L251.79 164.29 L252.47 164.71 L253.15 165.16 L253.82 165.65 L254.49 166.15 L255.14 166.68 L255.78 167.23 L256.41 167.79 L257.03 168.36 L257.64 168.93 L258.23 169.52 L258.81 170.11 L259.38 170.71 L259.94 171.31 L260.49 171.91 L261.03 172.53 L261.55 173.14 L262.07 173.76 L262.58 174.39 L263.08 175.02 L263.58 175.65 L264.06 176.29 L264.55 176.93 L265.02 177.57 L265.49 178.21 L265.96 178.86 L266.42 179.51 L266.87 180.16 L267.33 180.81 L267.78 181.46 L268.23 182.12 L268.67 182.77 L269.12 183.43 L269.57 184.08 L270.01 184.74 L270.46 185.39 L270.91 186.05 L271.36 186.70 L271.81 187.35 L272.26 188.01 L272.72 188.65 L273.18 189.30 L273.65 189.95 L274.12 190.59 L274.59 191.23 L275.07 191.87 L275.56 192.50 L276.05 193.13 L276.55 193.76 L277.05 194.38 L277.56 195.01 L278.07 195.62 L278.59 196.24 L279.11 196.85 L279.64 197.45 L280.17 198.06 L280.71 198.65 L281.25 199.25 L281.80 199.84 L282.35 200.42 L282.90 201.00 L283.47 201.58 L284.03 202.15 L284.60 202.71 L285.18 203.27 L285.76 203.83 L286.34 204.38 L286.93 204.92 L287.53 205.46 L288.13 205.99 L288.73 206.52 L289.34 207.04 L289.95 207.55 L290.57 208.06 L291.19 208.56 L291.82 209.05 L292.45 209.54 L293.09 210.02 L293.73 210.50 L294.37 210.97 L295.02 211.43 L295.67 211.88 L296.33 212.33 L296.99 212.78 L297.65 213.21 L298.32 213.64 L298.99 214.07 L299.67 214.49 L300.35 214.90 L301.03 215.31 L301.72 215.71 L302.41 216.11 L303.10 216.50 L303.80 216.88 L304.50 217.26 L305.20 217.64 L305.91 218.01 L306.62 218.37 L307.33 218.73 L308.04 219.09 L308.76 219.44 L309.48 219.78 L310.20 220.12 L310.93 220.46 L311.66 220.79 L312.39 221.12 L313.12 221.44 L313.86 221.76 L314.60 222.07 L315.34 222.38 L316.08 222.69 L316.83 222.99 L317.57 223.29 L318.32 223.58 L319.07 223.87 L319.82 224.16 L320.58 224.44 L321.33 224.72 L322.09 225.00 L322.85 225.27 L323.61 225.54 L324.37 225.81 L325.14 226.07 L325.90 226.33 L326.67 226.59 L327.43 226.85 L328.20 227.10 L328.97 227.35 L329.74 227.59 L330.51 227.84 L331.28 228.08 L332.05 228.32 L332.83 228.56 L333.60 228.79 L334.37 229.03 L335.15 229.26 L335.92 229.49 L336.70 229.71 L337.47 229.94 L338.25 230.16 L339.02 230.39 L339.80 230.61 L340.58 230.83 L341.35 231.04 L342.13 231.26 L342.90 231.47 L343.68 231.69 L344.45 231.90 L345.23 232.11 L346.01 232.32 L346.78 232.53 L347.56 232.74 L348.33 232.94 L349.11 233.15 L349.88 233.35 L350.66 233.55 L351.43 233.75 L352.21 233.95 L352.99 234.15 L353.76 234.35 L354.54 234.55 L355.31 234.74 L356.09 234.94 L356.86 235.13 L357.64 235.33 L358.42 235.52 L359.19 235.71 L359.97 235.90 L360.74 236.09 L361.52 236.28 L362.30 236.46 L363.07 236.65 L363.85 236.84 L364.63 237.02 L365.40 237.20 L366.18 237.39 L366.96 237.57 L367.73 237.75 L368.51 237.93 L369.29 238.12 L370.06 238.30 L370.84 238.47 L371.62 238.65 L372.40 238.83 L373.17 239.01 L373.95 239.19 L374.73 239.36 L375.51 239.54 L376.28 239.72 L377.06 239.89 L377.84 240.07 L378.62 240.24 L379.40 240.42 L380.18 240.59 L380.96 240.76 L381.73 240.94 L382.51 241.11 L383.29 241.28 L384.07 241.46 L384.85 241.63 L385.63 241.80 L386.41 241.97 L387.19 242.15 L387.97 242.32 L388.75 242.49 L389.54 242.66 L390.32 242.83 L391.10 243.00 L391.88 243.17 L392.66 243.35 L393.44 243.52 L394.23 243.69 L395.01 243.86 L395.79 244.03 L396.57 244.20 L397.36 244.38 L398.14 244.55 L398.92 244.72 L399.71 244.89 L400.49 245.07 L401.28 245.24 L402.06 245.41 L402.85 245.59 L403.63 245.76 L404.42 245.93 L405.20 246.11 L405.99 246.28 L406.77 246.46 L407.56 246.63 L408.35 246.81 L409.13 246.99 L409.92 247.16 L410.71 247.34 L411.50 247.52 L412.29 247.70 L413.07 247.88 L413.86 248.06" stroke="#c4c3c3" stroke-width="2.4"/></g>
<g fill="none" stroke="#2a2523" stroke-width="0.9"><polyline points="35.00,15.50 66.00,15.50 138.50,57.00"/><polyline points="79.00,15.50 110.50,15.50 164.80,52.00"/><polyline points="123.60,15.30 164.20,15.30 201.70,55.00"/><polyline points="169.90,15.30 202.90,15.30 229.00,53.40"/><polyline points="210.10,15.40 249.80,15.40 252.60,49.60"/><polyline points="315.70,15.60 284.20,15.60 272.20,50.50"/><polyline points="362.80,15.80 332.20,15.80 282.60,52.80"/><polyline points="421.10,15.20 384.20,15.20 312.70,68.60"/></g>
<g font-family="Liberation Sans, sans-serif" fill="#231815">
<text transform="translate(33.70,12.60) scale(1,1.1)" font-size="9.0" stroke="#231815" stroke-width="0.32" textLength="31.30" lengthAdjust="spacingAndGlyphs">Blue LED</text>
<text transform="translate(76.90,12.70) scale(1,1.1)" font-size="9.0" stroke="#231815" stroke-width="0.32" textLength="33.00" lengthAdjust="spacingAndGlyphs">White LED</text>
<text transform="translate(122.80,11.90) scale(1,1.1)" font-size="9.0" stroke="#231815" stroke-width="0.32" textLength="40.50" lengthAdjust="spacingAndGlyphs">Blue-green LED</text>
<text transform="translate(169.60,11.90) scale(1,1.1)" font-size="9.0" stroke="#231815" stroke-width="0.32" textLength="32.40" lengthAdjust="spacingAndGlyphs">Green LED</text>
<text transform="translate(210.10,11.70) scale(1,1.1)" font-size="9.0" stroke="#231815" stroke-width="0.32" textLength="39.80" lengthAdjust="spacingAndGlyphs">Yellow-green LED</text>
<text transform="translate(285.20,11.70) scale(1,1.1)" font-size="9.0" stroke="#231815" stroke-width="0.32" textLength="30.00" lengthAdjust="spacingAndGlyphs">Yellow LED</text>
<text transform="translate(332.80,11.80) scale(1,1.1)" font-size="9.0" stroke="#231815" stroke-width="0.32" textLength="29.40" lengthAdjust="spacingAndGlyphs">Orange LED</text>
<text transform="translate(387.30,11.80) scale(1,1.1)" font-size="9.7" textLength="34.60" lengthAdjust="spacingAndGlyphs">Red LED</text>
<text x="30.50" y="53.70" font-size="12.3" textLength="32.90" lengthAdjust="spacingAndGlyphs">100%</text>
<text x="34.30" y="94.90" font-size="12.3" textLength="27.30" lengthAdjust="spacingAndGlyphs">80%</text>
<text x="34.30" y="134.80" font-size="12.3" textLength="27.30" lengthAdjust="spacingAndGlyphs">60%</text>
<text x="34.30" y="175.80" font-size="12.3" textLength="27.30" lengthAdjust="spacingAndGlyphs">40%</text>
<text x="34.30" y="216.80" font-size="12.3" textLength="27.30" lengthAdjust="spacingAndGlyphs">20%</text>
<text x="40.00" y="257.80" font-size="12.3" textLength="19.20" lengthAdjust="spacingAndGlyphs">0%</text>
<text x="60.30" y="274" font-size="12.3" textLength="24.30" lengthAdjust="spacingAndGlyphs">300</text>
<text x="128.45" y="274" font-size="12.3" textLength="24.15" lengthAdjust="spacingAndGlyphs">400</text>
<text x="198.70" y="274" font-size="12.3" textLength="23.90" lengthAdjust="spacingAndGlyphs">500</text>
<text x="268.45" y="274" font-size="12.3" textLength="24.15" lengthAdjust="spacingAndGlyphs">600</text>
<text x="339.40" y="274" font-size="12.3" textLength="24.10" lengthAdjust="spacingAndGlyphs">700</text>
<text x="412.20" y="274" font-size="12.3" textLength="24.40" lengthAdjust="spacingAndGlyphs">800</text>
<text x="180.3" y="289.8" font-size="9.7" stroke="#231815" stroke-width="0.3" textLength="47.8" lengthAdjust="spacingAndGlyphs">Wavelength</text>
<text x="230.7" y="289.7" font-size="11" font-style="italic" stroke="#231815" stroke-width="0.25">λ</text>
<text x="239.4" y="289.7" font-size="11" stroke="#231815" stroke-width="0.2" textLength="23" lengthAdjust="spacingAndGlyphs">(nm)</text>
<g transform="translate(20,166.7) rotate(-90)" font-size="10.6" stroke="#231815" stroke-width="0.3">
<text x="0.00" y="0" textLength="30.00" lengthAdjust="spacingAndGlyphs">Relative</text>
<text x="33.90" y="0" textLength="19.30" lengthAdjust="spacingAndGlyphs">light</text>
<text x="55.20" y="0" textLength="36.40" lengthAdjust="spacingAndGlyphs">Intensity</text>
</g>
<text x="7.5" y="178.9" font-size="12" textLength="18.8" lengthAdjust="spacingAndGlyphs">(%)</text>
</g>
</svg>
</body></html>
